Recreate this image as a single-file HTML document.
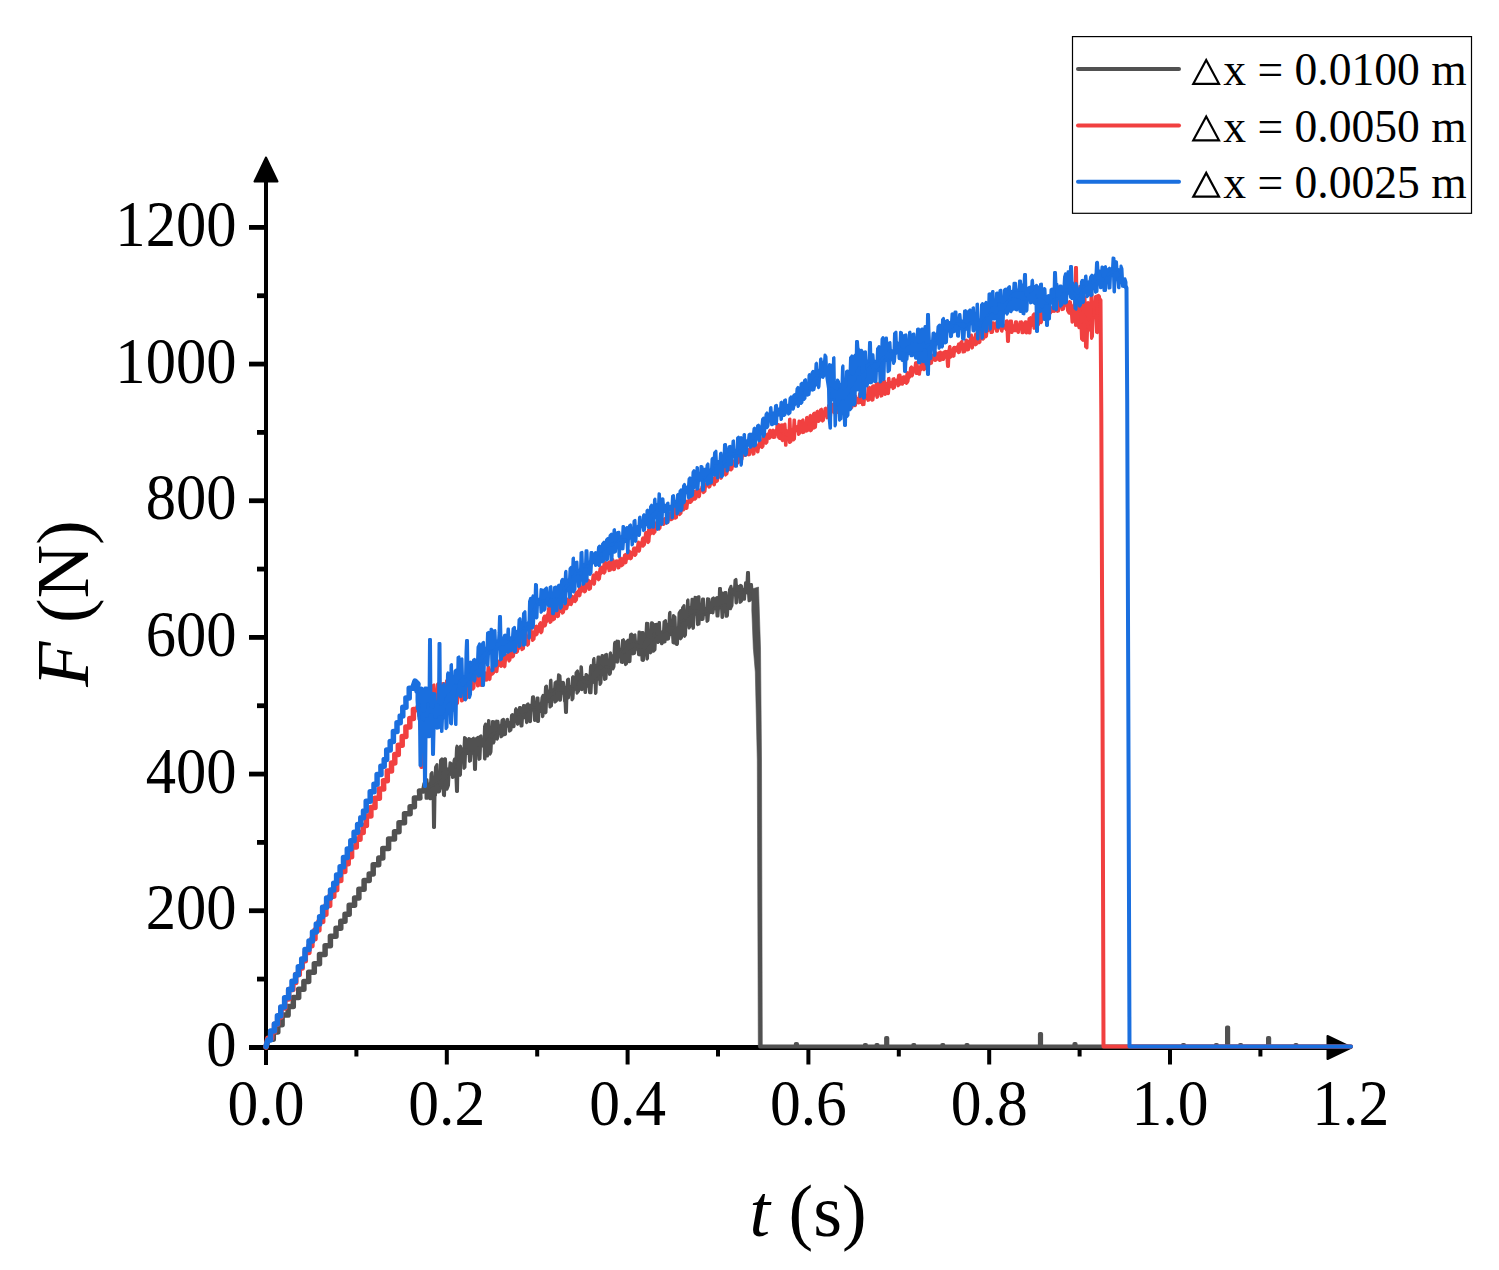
<!DOCTYPE html>
<html><head><meta charset="utf-8"><title>chart</title>
<style>html,body{margin:0;padding:0;background:#fff;overflow:hidden}svg{display:block}</style>
</head><body>
<svg width="1499" height="1270" viewBox="0 0 1499 1270">
<rect width="100%" height="100%" fill="#fff"/>
<rect x="264.00" y="182.00" width="4.00" height="883.00" fill="#000"/>
<rect x="249.00" y="1045.00" width="1079.00" height="5.00" fill="#000"/>
<polygon points="266,157.5 254.5,181.5 277.5,181.5" fill="#000" stroke="#000" stroke-width="2" stroke-linejoin="round"/>
<polygon points="1351.5,1047.5 1327.5,1036 1327.5,1059" fill="#000" stroke="#000" stroke-width="2" stroke-linejoin="round"/>
<rect x="249.00" y="1045.00" width="17.00" height="4.80" fill="#000"/>
<rect x="257.00" y="976.67" width="9.00" height="4.80" fill="#000"/>
<rect x="249.00" y="908.33" width="17.00" height="4.80" fill="#000"/>
<rect x="257.00" y="840.00" width="9.00" height="4.80" fill="#000"/>
<rect x="249.00" y="771.67" width="17.00" height="4.80" fill="#000"/>
<rect x="257.00" y="703.34" width="9.00" height="4.80" fill="#000"/>
<rect x="249.00" y="635.00" width="17.00" height="4.80" fill="#000"/>
<rect x="257.00" y="566.67" width="9.00" height="4.80" fill="#000"/>
<rect x="249.00" y="498.34" width="17.00" height="4.80" fill="#000"/>
<rect x="257.00" y="430.00" width="9.00" height="4.80" fill="#000"/>
<rect x="249.00" y="361.67" width="17.00" height="4.80" fill="#000"/>
<rect x="257.00" y="293.34" width="9.00" height="4.80" fill="#000"/>
<rect x="249.00" y="225.00" width="17.00" height="4.80" fill="#000"/>
<rect x="264.00" y="1047.00" width="4.00" height="17.50" fill="#000"/>
<rect x="354.40" y="1047.00" width="4.00" height="9.50" fill="#000"/>
<rect x="444.80" y="1047.00" width="4.00" height="17.50" fill="#000"/>
<rect x="535.20" y="1047.00" width="4.00" height="9.50" fill="#000"/>
<rect x="625.60" y="1047.00" width="4.00" height="17.50" fill="#000"/>
<rect x="716.00" y="1047.00" width="4.00" height="9.50" fill="#000"/>
<rect x="806.40" y="1047.00" width="4.00" height="17.50" fill="#000"/>
<rect x="896.80" y="1047.00" width="4.00" height="9.50" fill="#000"/>
<rect x="987.20" y="1047.00" width="4.00" height="17.50" fill="#000"/>
<rect x="1077.60" y="1047.00" width="4.00" height="9.50" fill="#000"/>
<rect x="1168.00" y="1047.00" width="4.00" height="17.50" fill="#000"/>
<rect x="1258.40" y="1047.00" width="4.00" height="9.50" fill="#000"/>
<text transform="translate(236.50,1066.10) scale(0.925,1)" font-family="Liberation Serif" font-size="65.5" text-anchor="end" fill="#000">0</text>
<text transform="translate(236.50,929.43) scale(0.925,1)" font-family="Liberation Serif" font-size="65.5" text-anchor="end" fill="#000">200</text>
<text transform="translate(236.50,792.77) scale(0.925,1)" font-family="Liberation Serif" font-size="65.5" text-anchor="end" fill="#000">400</text>
<text transform="translate(236.50,656.10) scale(0.925,1)" font-family="Liberation Serif" font-size="65.5" text-anchor="end" fill="#000">600</text>
<text transform="translate(236.50,519.44) scale(0.925,1)" font-family="Liberation Serif" font-size="65.5" text-anchor="end" fill="#000">800</text>
<text transform="translate(236.50,382.77) scale(0.925,1)" font-family="Liberation Serif" font-size="65.5" text-anchor="end" fill="#000">1000</text>
<text transform="translate(236.50,246.10) scale(0.925,1)" font-family="Liberation Serif" font-size="65.5" text-anchor="end" fill="#000">1200</text>
<text transform="translate(266.00,1125.20) scale(0.94,1)" font-family="Liberation Serif" font-size="65.5" text-anchor="middle" fill="#000">0.0</text>
<text transform="translate(446.80,1125.20) scale(0.94,1)" font-family="Liberation Serif" font-size="65.5" text-anchor="middle" fill="#000">0.2</text>
<text transform="translate(627.60,1125.20) scale(0.94,1)" font-family="Liberation Serif" font-size="65.5" text-anchor="middle" fill="#000">0.4</text>
<text transform="translate(808.40,1125.20) scale(0.94,1)" font-family="Liberation Serif" font-size="65.5" text-anchor="middle" fill="#000">0.6</text>
<text transform="translate(989.20,1125.20) scale(0.94,1)" font-family="Liberation Serif" font-size="65.5" text-anchor="middle" fill="#000">0.8</text>
<text transform="translate(1170.00,1125.20) scale(0.94,1)" font-family="Liberation Serif" font-size="65.5" text-anchor="middle" fill="#000">1.0</text>
<text transform="translate(1350.80,1125.20) scale(0.94,1)" font-family="Liberation Serif" font-size="65.5" text-anchor="middle" fill="#000">1.2</text>
<g fill="#515151" stroke="#515151">
<path d="M426.0,779.7 L426.5,779.7 L427.0,779.7 L427.5,785.6 L428.0,785.6 L428.5,785.1 L429.0,784.6 L429.5,784.1 L430.0,783.6 L430.5,783.1 L431.0,774.0 L431.5,773.2 L432.0,772.5 L432.5,783.4 L433.0,782.9 L433.5,782.5 L434.0,782.1 L434.5,781.5 L435.0,781.0 L435.5,767.2 L436.0,766.3 L436.5,765.4 L437.0,764.5 L437.5,780.2 L438.0,779.7 L438.5,779.2 L439.0,778.7 L439.5,778.2 L440.0,777.7 L440.5,760.4 L441.0,759.9 L441.5,759.4 L442.0,758.8 L442.5,770.5 L443.0,770.3 L443.5,770.0 L444.0,769.7 L444.5,759.0 L445.0,758.6 L445.5,759.0 L446.0,769.6 L446.5,769.5 L447.0,769.3 L447.5,769.2 L448.0,769.0 L448.5,768.9 L449.0,768.7 L449.5,768.6 L450.0,762.8 L450.5,763.1 L451.0,763.5 L451.5,763.9 L452.0,769.5 L452.5,768.6 L453.0,767.6 L453.5,766.5 L454.0,760.5 L454.5,759.1 L455.0,761.6 L455.5,760.5 L456.0,759.3 L456.5,747.8 L457.0,746.1 L457.5,754.6 L458.0,753.9 L458.5,753.3 L459.0,752.6 L459.5,751.9 L460.0,746.8 L460.5,746.1 L461.0,751.5 L461.5,750.9 L462.0,750.2 L462.5,749.5 L463.0,748.9 L463.5,748.2 L464.0,747.5 L464.5,737.4 L465.0,737.8 L465.5,738.2 L466.0,738.6 L466.5,747.1 L467.0,747.2 L467.5,747.3 L468.0,747.4 L468.5,747.5 L469.0,738.6 L469.5,739.1 L470.0,739.6 L470.5,739.3 L471.0,749.8 L471.5,749.6 L472.0,749.5 L472.5,749.3 L473.0,738.5 L473.5,738.2 L474.0,748.4 L474.5,748.2 L475.0,748.0 L475.5,747.7 L476.0,747.4 L476.5,738.3 L477.0,738.0 L477.5,737.7 L478.0,737.4 L478.5,744.8 L479.0,744.5 L479.5,744.2 L480.0,736.5 L480.5,736.2 L481.0,735.9 L481.5,744.3 L482.0,744.0 L482.5,743.5 L483.0,743.0 L483.5,742.5 L484.0,742.0 L484.5,726.5 L485.0,725.2 L485.5,724.0 L486.0,737.1 L486.5,736.4 L487.0,735.8 L487.5,735.1 L488.0,734.4 L488.5,720.5 L489.0,720.6 L489.5,732.5 L490.0,732.2 L490.5,731.9 L491.0,731.5 L491.5,731.2 L492.0,730.9 L492.5,721.4 L493.0,721.5 L493.5,721.6 L494.0,721.7 L494.5,730.8 L495.0,730.6 L495.5,730.4 L496.0,730.1 L496.5,721.1 L497.0,721.2 L497.5,721.2 L498.0,721.3 L498.5,726.3 L499.0,726.2 L499.5,726.0 L500.0,725.9 L500.5,725.6 L501.0,725.3 L501.5,725.0 L502.0,720.2 L502.5,719.9 L503.0,719.6 L503.5,719.3 L504.0,723.9 L504.5,723.6 L505.0,723.3 L505.5,723.0 L506.0,722.7 L506.5,722.4 L507.0,719.6 L507.5,719.3 L508.0,723.2 L508.5,722.9 L509.0,722.5 L509.5,722.7 L510.0,722.3 L510.5,721.9 L511.0,721.6 L511.5,715.2 L512.0,714.9 L512.5,714.6 L513.0,719.4 L513.5,718.8 L514.0,718.2 L514.5,717.6 L515.0,717.0 L515.5,709.5 L516.0,708.7 L516.5,712.5 L517.0,711.8 L517.5,711.1 L518.0,710.5 L518.5,710.4 L519.0,710.4 L519.5,707.6 L520.0,707.6 L520.5,707.6 L521.0,712.4 L521.5,712.4 L522.0,712.4 L522.5,712.4 L523.0,712.3 L523.5,705.4 L524.0,705.4 L524.5,711.3 L525.0,711.3 L525.5,710.8 L526.0,710.4 L526.5,705.2 L527.0,704.7 L527.5,704.2 L528.0,703.8 L528.5,707.2 L529.0,706.7 L529.5,706.3 L530.0,705.9 L530.5,705.4 L531.0,705.0 L531.5,704.6 L532.0,704.1 L532.5,696.9 L533.0,696.8 L533.5,696.7 L534.0,704.8 L534.5,704.8 L535.0,704.8 L535.5,704.7 L536.0,704.7 L536.5,704.6 L537.0,698.0 L537.5,697.9 L538.0,697.9 L538.5,705.6 L539.0,705.6 L539.5,705.5 L540.0,705.5 L540.5,704.5 L541.0,703.5 L541.5,702.5 L542.0,697.5 L542.5,696.4 L543.0,695.4 L543.5,700.0 L544.0,699.0 L544.5,698.0 L545.0,697.1 L545.5,686.8 L546.0,686.4 L546.5,686.0 L547.0,692.4 L547.5,692.0 L548.0,691.6 L548.5,691.1 L549.0,690.7 L549.5,690.3 L550.0,689.8 L550.5,680.5 L551.0,680.1 L551.5,691.6 L552.0,691.1 L552.5,690.7 L553.0,690.3 L553.5,689.9 L554.0,689.5 L554.5,689.1 L555.0,682.8 L555.5,682.3 L556.0,681.9 L556.5,683.8 L557.0,683.3 L557.5,682.9 L558.0,682.5 L558.5,674.8 L559.0,675.1 L559.5,675.5 L560.0,675.9 L560.5,684.4 L561.0,684.6 L561.5,684.9 L562.0,685.1 L562.5,685.4 L563.0,682.3 L563.5,682.6 L564.0,686.8 L564.5,687.0 L565.0,687.3 L565.5,687.5 L566.0,687.8 L566.5,687.5 L567.0,687.3 L567.5,679.7 L568.0,679.3 L568.5,679.0 L569.0,687.4 L569.5,687.1 L570.0,686.9 L570.5,686.7 L571.0,686.4 L571.5,686.2 L572.0,686.0 L572.5,677.3 L573.0,676.7 L573.5,685.8 L574.0,685.2 L574.5,684.6 L575.0,684.0 L575.5,683.3 L576.0,672.7 L576.5,672.1 L577.0,671.5 L577.5,670.9 L578.0,678.7 L578.5,678.1 L579.0,677.5 L579.5,676.8 L580.0,676.2 L580.5,676.5 L581.0,666.7 L581.5,667.1 L582.0,676.7 L582.5,677.0 L583.0,677.3 L583.5,677.6 L584.0,677.9 L584.5,678.1 L585.0,678.4 L585.5,678.7 L586.0,674.4 L586.5,674.7 L587.0,675.0 L587.5,678.5 L588.0,678.7 L588.5,677.9 L589.0,677.1 L589.5,676.3 L590.0,675.5 L590.5,666.8 L591.0,665.6 L591.5,672.1 L592.0,671.3 L592.5,670.4 L593.0,669.6 L593.5,659.7 L594.0,658.5 L594.5,666.9 L595.0,666.0 L595.5,665.8 L596.0,665.6 L596.5,665.4 L597.0,665.1 L597.5,664.9 L598.0,657.0 L598.5,656.9 L599.0,656.9 L599.5,663.7 L600.0,663.5 L600.5,663.3 L601.0,663.1 L601.5,662.8 L602.0,655.5 L602.5,655.4 L603.0,665.0 L603.5,664.8 L604.0,664.6 L604.5,664.4 L605.0,664.2 L605.5,654.7 L606.0,654.6 L606.5,654.4 L607.0,664.4 L607.5,664.2 L608.0,663.9 L608.5,663.7 L609.0,663.5 L609.5,663.3 L610.0,653.9 L610.5,652.9 L611.0,660.7 L611.5,659.6 L612.0,658.5 L612.5,657.4 L613.0,656.3 L613.5,655.1 L614.0,654.0 L614.5,643.3 L615.0,642.2 L615.5,650.8 L616.0,649.7 L616.5,649.8 L617.0,641.1 L617.5,641.2 L618.0,641.2 L618.5,641.2 L619.0,649.0 L619.5,649.1 L620.0,649.2 L620.5,649.3 L621.0,649.4 L621.5,649.4 L622.0,649.5 L622.5,640.2 L623.0,640.2 L623.5,639.7 L624.0,646.7 L624.5,646.2 L625.0,645.8 L625.5,645.3 L626.0,644.8 L626.5,641.6 L627.0,641.1 L627.5,640.7 L628.0,640.2 L628.5,642.4 L629.0,642.2 L629.5,642.0 L630.0,641.7 L630.5,634.6 L631.0,634.4 L631.5,634.1 L632.0,641.4 L632.5,641.2 L633.0,640.9 L633.5,640.7 L634.0,635.4 L634.5,635.1 L635.0,634.9 L635.5,641.6 L636.0,641.7 L636.5,641.8 L637.0,641.9 L637.5,642.0 L638.0,642.1 L638.5,642.2 L639.0,632.1 L639.5,632.1 L640.0,643.3 L640.5,643.4 L641.0,643.5 L641.5,643.6 L642.0,632.4 L642.5,632.5 L643.0,632.5 L643.5,639.6 L644.0,638.4 L644.5,637.2 L645.0,635.9 L645.5,634.7 L646.0,633.4 L646.5,623.3 L647.0,623.3 L647.5,623.4 L648.0,623.4 L648.5,637.1 L649.0,636.8 L649.5,636.6 L650.0,636.3 L650.5,636.1 L651.0,635.8 L651.5,622.8 L652.0,622.8 L652.5,622.9 L653.0,631.4 L653.5,631.3 L654.0,631.1 L654.5,631.0 L655.0,624.4 L655.5,624.4 L656.0,624.4 L656.5,624.3 L657.0,633.8 L657.5,633.6 L658.0,633.3 L658.5,633.1 L659.0,622.5 L659.5,622.5 L660.0,632.9 L660.5,632.7 L661.0,632.4 L661.5,632.2 L662.0,632.0 L662.5,631.8 L663.0,631.6 L663.5,631.4 L664.0,621.8 L664.5,621.5 L665.0,621.2 L665.5,620.5 L666.0,626.3 L666.5,625.8 L667.0,625.3 L667.5,624.8 L668.0,624.3 L668.5,623.8 L669.0,623.3 L669.5,613.0 L670.0,612.3 L670.5,625.3 L671.0,624.9 L671.5,624.5 L672.0,624.1 L672.5,624.5 L673.0,624.8 L673.5,615.6 L674.0,616.1 L674.5,616.5 L675.0,617.0 L675.5,628.2 L676.0,628.6 L676.5,629.0 L677.0,629.3 L677.5,628.6 L678.0,627.9 L678.5,627.2 L679.0,613.2 L679.5,612.3 L680.0,611.5 L680.5,610.7 L681.0,619.1 L681.5,618.3 L682.0,617.6 L682.5,607.8 L683.0,607.0 L683.5,606.3 L684.0,605.5 L684.5,618.3 L685.0,617.6 L685.5,616.9 L686.0,616.2 L686.5,615.5 L687.0,614.8 L687.5,600.6 L688.0,599.9 L688.5,610.4 L689.0,609.7 L689.5,609.0 L690.0,608.3 L690.5,607.6 L691.0,606.9 L691.5,606.9 L692.0,599.2 L692.5,599.4 L693.0,607.7 L693.5,607.7 L694.0,607.8 L694.5,607.8 L695.0,597.2 L695.5,597.5 L696.0,597.7 L696.5,608.2 L697.0,608.3 L697.5,608.3 L698.0,596.9 L698.5,596.8 L699.0,596.7 L699.5,609.0 L700.0,608.9 L700.5,608.8 L701.0,608.7 L701.5,608.6 L702.0,608.5 L702.5,599.0 L703.0,598.9 L703.5,598.9 L704.0,608.7 L704.5,608.7 L705.0,608.6 L705.5,608.5 L706.0,608.4 L706.5,608.3 L707.0,608.3 L707.5,598.7 L708.0,598.9 L708.5,599.0 L709.0,599.2 L709.5,604.4 L710.0,604.5 L710.5,604.5 L711.0,604.5 L711.5,604.5 L712.0,604.5 L712.5,598.6 L713.0,598.3 L713.5,597.9 L714.0,604.8 L714.5,604.6 L715.0,604.4 L715.5,604.1 L716.0,598.3 L716.5,597.9 L717.0,597.6 L717.5,604.6 L718.0,604.4 L718.5,604.2 L719.0,604.0 L719.5,588.5 L720.0,588.5 L720.5,588.5 L721.0,603.6 L721.5,593.0 L722.0,593.0 L722.5,593.0 L723.0,602.4 L723.5,602.4 L724.0,602.4 L724.5,602.4 L725.0,592.5 L725.5,592.5 L726.0,592.5 L726.5,601.6 L727.0,601.6 L727.5,600.5 L728.0,599.5 L728.5,598.4 L729.0,597.4 L729.5,589.5 L730.0,588.4 L730.5,587.3 L731.0,586.2 L731.5,590.9 L732.0,589.8 L732.5,589.6 L733.0,589.3 L733.5,589.0 L734.0,588.7 L734.5,588.4 L735.0,580.2 L735.5,579.8 L736.0,579.4 L736.5,587.2 L737.0,586.9 L737.5,586.6 L738.0,586.3 L738.5,586.5 L739.0,586.7 L739.5,586.9 L740.0,587.1 L740.5,585.4 L741.0,585.7 L741.5,585.9 L742.0,589.0 L742.5,589.2 L743.0,589.3 L743.5,589.4 L744.0,589.6 L744.5,589.6 L745.0,589.6 L745.5,582.8 L746.0,582.8 L746.5,582.8 L747.0,582.8 L747.5,572.5 L748.0,572.5 L748.5,572.5 L749.0,590.5 L749.5,590.4 L750.0,590.3 L750.5,590.2 L751.0,584.6 L751.5,584.6 L752.0,590.4 L752.0,593.6 L751.5,593.7 L751.0,593.9 L750.5,600.0 L750.0,600.3 L749.5,600.5 L749.0,600.8 L748.5,592.9 L748.0,593.0 L747.5,593.0 L747.0,592.6 L746.5,592.6 L746.0,592.6 L745.5,592.6 L745.0,592.6 L744.5,599.3 L744.0,599.3 L743.5,595.0 L743.0,595.1 L742.5,595.3 L742.0,595.5 L741.5,601.2 L741.0,601.6 L740.5,602.0 L740.0,602.4 L739.5,592.7 L739.0,592.7 L738.5,592.7 L738.0,592.8 L737.5,593.0 L737.0,593.2 L736.5,603.0 L736.0,603.0 L735.5,594.4 L735.0,594.6 L734.5,594.8 L734.0,595.0 L733.5,595.2 L733.0,595.4 L732.5,595.6 L732.0,605.7 L731.5,606.7 L731.0,607.7 L730.5,608.8 L730.0,600.6 L729.5,601.6 L729.0,602.7 L728.5,603.7 L728.0,604.8 L727.5,615.3 L727.0,616.3 L726.5,616.3 L726.0,616.3 L725.5,607.6 L725.0,607.6 L724.5,607.6 L724.0,607.6 L723.5,607.6 L723.0,607.6 L722.5,617.5 L722.0,617.5 L721.5,608.0 L721.0,608.0 L720.5,608.0 L720.0,608.0 L719.5,608.1 L719.0,608.2 L718.5,608.4 L718.0,616.1 L717.5,616.1 L717.0,616.1 L716.5,608.3 L716.0,608.5 L715.5,608.6 L715.0,608.8 L714.5,608.9 L714.0,609.1 L713.5,609.2 L713.0,612.9 L712.5,612.9 L712.0,611.9 L711.5,612.1 L711.0,612.3 L710.5,612.5 L710.0,612.7 L709.5,612.9 L709.0,613.2 L708.5,613.4 L708.0,620.5 L707.5,620.9 L707.0,621.3 L706.5,613.8 L706.0,614.0 L705.5,614.2 L705.0,614.4 L704.5,614.6 L704.0,614.8 L703.5,614.9 L703.0,619.4 L702.5,619.5 L702.0,619.6 L701.5,615.7 L701.0,615.8 L700.5,615.9 L700.0,616.0 L699.5,616.1 L699.0,624.1 L698.5,624.2 L698.0,624.3 L697.5,624.6 L697.0,613.9 L696.5,614.0 L696.0,614.2 L695.5,614.3 L695.0,614.4 L694.5,614.5 L694.0,614.6 L693.5,627.9 L693.0,628.3 L692.5,615.8 L692.0,616.0 L691.5,616.1 L691.0,616.2 L690.5,616.9 L690.0,626.7 L689.5,627.4 L689.0,628.0 L688.5,619.5 L688.0,620.2 L687.5,620.9 L687.0,621.5 L686.5,622.2 L686.0,622.9 L685.5,635.0 L685.0,635.6 L684.5,636.3 L684.0,622.4 L683.5,623.1 L683.0,623.8 L682.5,624.5 L682.0,625.2 L681.5,637.6 L681.0,638.2 L680.5,638.8 L680.0,628.5 L679.5,629.2 L679.0,629.9 L678.5,630.6 L678.0,631.3 L677.5,643.9 L677.0,644.5 L676.5,644.3 L676.0,644.1 L675.5,630.8 L675.0,630.4 L674.5,630.1 L674.0,643.0 L673.5,642.8 L673.0,642.6 L672.5,634.2 L672.0,633.9 L671.5,634.1 L671.0,634.4 L670.5,634.6 L670.0,634.8 L669.5,635.0 L669.0,635.2 L668.5,639.0 L668.0,639.1 L667.5,639.2 L667.0,633.2 L666.5,633.5 L666.0,633.8 L665.5,634.1 L665.0,641.9 L664.5,642.0 L664.0,642.2 L663.5,636.6 L663.0,636.8 L662.5,637.0 L662.0,643.7 L661.5,643.8 L661.0,634.6 L660.5,634.7 L660.0,634.9 L659.5,635.2 L659.0,641.7 L658.5,642.1 L658.0,642.5 L657.5,637.6 L657.0,637.9 L656.5,638.2 L656.0,638.5 L655.5,638.8 L655.0,649.6 L654.5,650.1 L654.0,650.6 L653.5,651.1 L653.0,642.3 L652.5,642.7 L652.0,643.2 L651.5,643.6 L651.0,652.3 L650.5,652.9 L650.0,645.9 L649.5,646.3 L649.0,646.8 L648.5,647.3 L648.0,647.8 L647.5,658.4 L647.0,659.1 L646.5,650.3 L646.0,650.8 L645.5,651.4 L645.0,652.0 L644.5,652.6 L644.0,653.2 L643.5,660.2 L643.0,660.5 L642.5,660.4 L642.0,660.2 L641.5,649.8 L641.0,649.7 L640.5,649.5 L640.0,649.4 L639.5,654.9 L639.0,654.8 L638.5,654.6 L638.0,649.5 L637.5,649.3 L637.0,649.2 L636.5,649.1 L636.0,648.9 L635.5,648.8 L635.0,648.6 L634.5,653.3 L634.0,653.5 L633.5,653.7 L633.0,653.9 L632.5,649.9 L632.0,650.1 L631.5,650.3 L631.0,650.5 L630.5,650.7 L630.0,661.5 L629.5,661.6 L629.0,661.8 L628.5,651.8 L628.0,651.9 L627.5,652.4 L627.0,652.8 L626.5,663.8 L626.0,664.2 L625.5,664.6 L625.0,654.7 L624.5,655.1 L624.0,655.5 L623.5,656.0 L623.0,656.4 L622.5,662.6 L622.0,662.4 L621.5,662.2 L621.0,662.0 L620.5,653.7 L620.0,653.6 L619.5,653.5 L619.0,653.4 L618.5,653.2 L618.0,653.1 L617.5,662.2 L617.0,662.0 L616.5,661.8 L616.0,661.6 L615.5,655.2 L615.0,656.4 L614.5,657.5 L614.0,666.6 L613.5,667.8 L613.0,668.9 L612.5,661.1 L612.0,662.2 L611.5,663.3 L611.0,664.5 L610.5,673.0 L610.0,674.2 L609.5,674.4 L609.0,669.9 L608.5,670.1 L608.0,670.4 L607.5,670.6 L607.0,670.9 L606.5,671.1 L606.0,678.6 L605.5,678.9 L605.0,679.2 L604.5,679.5 L604.0,669.3 L603.5,669.5 L603.0,669.8 L602.5,670.2 L602.0,670.7 L601.5,671.1 L601.0,682.8 L600.5,683.6 L600.0,684.4 L599.5,676.9 L599.0,677.4 L598.5,678.0 L598.0,678.6 L597.5,679.1 L597.0,679.7 L596.5,680.2 L596.0,692.6 L595.5,693.4 L595.0,680.8 L594.5,681.2 L594.0,681.6 L593.5,681.9 L593.0,682.3 L592.5,682.7 L592.0,683.0 L591.5,683.4 L591.0,692.8 L590.5,692.8 L590.0,692.7 L589.5,692.7 L589.0,685.6 L588.5,685.9 L588.0,686.3 L587.5,686.1 L587.0,685.9 L586.5,685.7 L586.0,685.5 L585.5,692.6 L585.0,692.5 L584.5,685.1 L584.0,684.9 L583.5,684.7 L583.0,684.5 L582.5,684.3 L582.0,689.7 L581.5,689.6 L581.0,689.4 L580.5,681.8 L580.0,681.6 L579.5,682.2 L579.0,682.8 L578.5,691.3 L578.0,691.9 L577.5,692.5 L577.0,693.2 L576.5,686.8 L576.0,687.4 L575.5,688.1 L575.0,688.7 L574.5,689.3 L574.0,689.9 L573.5,690.6 L573.0,698.5 L572.5,699.1 L572.0,699.8 L571.5,690.9 L571.0,691.0 L570.5,691.2 L570.0,691.4 L569.5,691.6 L569.0,691.8 L568.5,697.9 L568.0,698.1 L567.5,693.1 L567.0,693.3 L566.5,712.5 L566.0,712.5 L565.5,712.5 L565.0,701.3 L564.5,701.2 L564.0,693.5 L563.5,693.4 L563.0,693.2 L562.5,693.1 L562.0,693.0 L561.5,692.8 L561.0,692.7 L560.5,700.2 L560.0,700.2 L559.5,700.2 L559.0,693.1 L558.5,693.0 L558.0,692.9 L557.5,693.3 L557.0,693.7 L556.5,700.9 L556.0,701.3 L555.5,701.7 L555.0,702.1 L554.5,696.1 L554.0,696.5 L553.5,696.9 L553.0,697.4 L552.5,697.8 L552.0,698.2 L551.5,705.8 L551.0,706.2 L550.5,706.6 L550.0,707.0 L549.5,699.8 L549.0,700.2 L548.5,700.6 L548.0,701.0 L547.5,701.5 L547.0,701.9 L546.5,702.3 L546.0,712.4 L545.5,712.8 L545.0,701.6 L544.5,702.5 L544.0,703.4 L543.5,704.3 L543.0,715.9 L542.5,716.7 L542.0,708.1 L541.5,709.0 L541.0,710.0 L540.5,710.9 L540.0,711.8 L539.5,711.8 L539.0,711.8 L538.5,721.4 L538.0,721.4 L537.5,721.4 L537.0,712.0 L536.5,712.0 L536.0,712.0 L535.5,712.0 L535.0,720.4 L534.5,720.4 L534.0,709.9 L533.5,709.9 L533.0,709.9 L532.5,709.9 L532.0,710.0 L531.5,710.4 L531.0,710.7 L530.5,721.4 L530.0,721.7 L529.5,712.3 L529.0,712.7 L528.5,713.1 L528.0,713.5 L527.5,713.8 L527.0,722.3 L526.5,722.6 L526.0,716.8 L525.5,717.2 L525.0,717.6 L524.5,717.6 L524.0,717.7 L523.5,717.7 L523.0,717.7 L522.5,717.8 L522.0,725.9 L521.5,725.9 L521.0,726.0 L520.5,716.6 L520.0,716.6 L519.5,716.7 L519.0,716.7 L518.5,716.8 L518.0,724.0 L517.5,724.3 L517.0,718.5 L516.5,719.0 L516.0,719.4 L515.5,719.9 L515.0,720.4 L514.5,720.8 L514.0,726.6 L513.5,726.8 L513.0,722.5 L512.5,722.8 L512.0,723.2 L511.5,723.6 L511.0,730.0 L510.5,730.4 L510.0,730.8 L509.5,731.2 L509.0,724.7 L508.5,725.1 L508.0,725.5 L507.5,725.9 L507.0,726.3 L506.5,726.6 L506.0,726.9 L505.5,734.3 L505.0,734.7 L504.5,727.8 L504.0,728.1 L503.5,728.4 L503.0,728.7 L502.5,735.7 L502.0,736.1 L501.5,736.4 L501.0,736.8 L500.5,730.7 L500.0,731.0 L499.5,731.3 L499.0,731.7 L498.5,732.1 L498.0,732.4 L497.5,738.6 L497.0,739.2 L496.5,735.2 L496.0,735.7 L495.5,736.1 L495.0,736.5 L494.5,736.9 L494.0,742.1 L493.5,743.0 L493.0,739.5 L492.5,740.3 L492.0,741.0 L491.5,741.8 L491.0,752.0 L490.5,753.1 L490.0,754.2 L489.5,738.8 L489.0,739.3 L488.5,739.9 L488.0,740.4 L487.5,756.1 L487.0,755.9 L486.5,742.6 L486.0,743.0 L485.5,743.4 L485.0,759.1 L484.5,758.8 L484.0,744.0 L483.5,744.5 L483.0,745.0 L482.5,745.5 L482.0,746.0 L481.5,746.3 L481.0,746.5 L480.5,746.8 L480.0,758.6 L479.5,758.9 L479.0,759.3 L478.5,748.3 L478.0,748.7 L477.5,749.0 L477.0,749.3 L476.5,749.6 L476.0,750.0 L475.5,769.5 L475.0,769.5 L474.5,769.5 L474.0,752.7 L473.5,752.8 L473.0,753.0 L472.5,753.1 L472.0,753.2 L471.5,753.3 L471.0,753.4 L470.5,760.8 L470.0,760.8 L469.5,761.4 L469.0,753.0 L468.5,753.1 L468.0,753.2 L467.5,753.3 L467.0,753.5 L466.5,753.6 L466.0,753.7 L465.5,753.9 L465.0,767.3 L464.5,767.8 L464.0,768.4 L463.5,753.2 L463.0,753.9 L462.5,754.6 L462.0,755.3 L461.5,755.9 L461.0,756.6 L460.5,774.7 L460.0,775.4 L459.5,761.0 L459.0,761.7 L458.5,762.4 L458.0,763.1 L457.5,791.5 L457.0,791.5 L456.5,791.5 L456.0,779.0 L455.5,769.4 L455.0,770.0 L454.5,770.6 L454.0,771.2 L453.5,771.8 L453.0,777.4 L452.5,777.5 L452.0,771.5 L451.5,772.2 L451.0,772.9 L450.5,773.6 L450.0,774.3 L449.5,775.0 L449.0,775.7 L448.5,785.3 L448.0,786.7 L447.5,788.0 L447.0,789.3 L446.5,780.2 L446.0,781.0 L445.5,781.7 L445.0,782.4 L444.5,795.7 L444.0,795.4 L443.5,795.2 L443.0,788.3 L442.5,788.2 L442.0,788.1 L441.5,788.0 L441.0,787.9 L440.5,787.8 L440.0,787.6 L439.5,791.6 L439.0,791.8 L438.5,792.0 L438.0,792.1 L437.5,785.3 L437.0,785.7 L436.5,786.1 L436.0,786.4 L435.5,795.3 L435.0,795.4 L434.5,827.5 L434.0,827.5 L433.5,827.5 L433.0,787.9 L432.5,788.2 L432.0,788.5 L431.5,788.8 L431.0,798.7 L430.5,798.7 L430.0,798.8 L429.5,790.4 L429.0,790.6 L428.5,790.9 L428.0,791.2 L427.5,798.3 L427.0,798.3 L426.5,798.3 L426.0,798.3Z" stroke-width="3" stroke-linejoin="round"/>
<path d="M752.0,589.0 L758.5,587.0 L760.5,648.0 L761.5,760.0 L762.3,1046.4 L758.3,1046.4 L757.3,760.0 L755.3,672.0 L753.3,648.0 L751.8,610.0Z" stroke-width="0.6"/>
<path d="M266.0,1047.0 L268.5,1039.2 L273.3,1039.2 L273.3,1031.9 L277.8,1031.9 L277.8,1024.8 L282.1,1024.8 L282.1,1015.1 L288.1,1015.1 L288.1,1006.6 L293.3,1006.6 L293.3,997.6 L298.7,997.6 L298.7,989.2 L303.9,989.2 L303.9,981.4 L308.7,981.4 L308.7,972.3 L314.3,972.3 L314.3,963.8 L319.5,963.8 L319.5,954.6 L325.1,954.6 L325.1,945.7 L330.4,945.7 L330.4,936.3 L336.0,936.3 L336.0,928.3 L340.8,928.3 L340.8,921.2 L345.0,921.2 L345.0,914.2 L349.2,914.2 L349.2,905.2 L354.6,905.2 L354.6,898.1 L358.9,898.1 L358.9,889.3 L364.1,889.3 L364.1,880.6 L369.2,880.6 L369.2,873.9 L373.2,873.9 L373.2,864.7 L378.7,864.7 L378.8,858.0 L382.8,858.0 L382.8,848.5 L388.6,848.5 L388.6,839.1 L394.5,839.1 L394.5,831.8 L399.0,831.8 L399.0,822.8 L404.5,822.8 L404.5,813.7 L410.1,813.7 L410.1,806.8 L414.4,806.8 L414.4,797.9 L419.9,797.9 L419.5,791.0 L423.7,791.0 L425.0,784.0 L426.0,789.0" fill="none" stroke-width="5.5" stroke-linejoin="round" stroke-linecap="round"/>
<path d="M760.0,1046.4 L795.8,1046.4 L795.8,1044.0 L797.0,1044.0 L797.0,1046.4 L864.8,1046.4 L864.8,1045.1 L866.0,1045.1 L866.0,1046.4 L876.4,1046.4 L876.4,1045.1 L877.6,1045.1 L877.6,1046.4 L886.1,1046.4 L886.1,1038.0 L887.3,1038.0 L887.3,1046.4 L913.2,1046.4 L913.2,1045.1 L914.4,1045.1 L914.4,1046.4 L942.2,1046.4 L942.2,1045.0 L943.4,1045.0 L943.4,1046.4 L966.4,1046.4 L966.4,1045.1 L967.6,1045.1 L967.6,1046.4 L1039.9,1046.4 L1039.9,1034.0 L1041.1,1034.0 L1041.1,1046.4 L1074.4,1046.4 L1074.4,1044.0 L1075.6,1044.0 L1075.6,1046.4 L1182.9,1046.4 L1182.9,1045.1 L1184.1,1045.1 L1184.1,1046.4 L1215.8,1046.4 L1215.8,1045.1 L1217.0,1045.1 L1217.0,1046.4 L1227.0,1046.4 L1227.0,1027.5 L1228.2,1027.5 L1228.2,1046.4 L1240.0,1046.4 L1240.0,1045.1 L1241.2,1045.1 L1241.2,1046.4 L1268.0,1046.4 L1268.0,1038.0 L1269.2,1038.0 L1269.2,1046.4 L1295.4,1046.4 L1295.4,1045.1 L1296.6,1045.1 L1296.6,1046.4 L1351.0,1046.4" fill="none" stroke-width="4" stroke-linejoin="round" stroke-linecap="round"/>
</g>
<g fill="#F14040" stroke="#F14040">
<path d="M420.0,714.1 L420.5,713.8 L421.0,713.4 L421.5,713.1 L422.0,712.7 L422.5,702.2 L423.0,701.6 L423.5,701.1 L424.0,710.9 L424.5,710.2 L425.0,709.5 L425.5,708.9 L426.0,708.2 L426.5,707.5 L427.0,706.8 L427.5,691.3 L428.0,690.3 L428.5,704.0 L429.0,703.5 L429.5,703.0 L430.0,702.5 L430.5,702.0 L431.0,701.6 L431.5,701.1 L432.0,700.6 L432.5,686.0 L433.0,685.6 L433.5,685.2 L434.0,684.8 L434.5,694.3 L435.0,693.9 L435.5,693.5 L436.0,693.1 L436.5,692.7 L437.0,692.3 L437.5,684.1 L438.0,683.7 L438.5,683.3 L439.0,682.9 L439.5,696.8 L440.0,696.4 L440.5,696.3 L441.0,696.1 L441.5,696.0 L442.0,683.7 L442.5,683.6 L443.0,683.5 L443.5,683.4 L444.0,688.8 L444.5,688.7 L445.0,688.6 L445.5,688.5 L446.0,688.3 L446.5,680.6 L447.0,680.5 L447.5,690.0 L448.0,689.9 L448.5,689.8 L449.0,689.6 L449.5,689.5 L450.0,689.4 L450.5,689.8 L451.0,690.1 L451.5,680.0 L452.0,680.9 L452.5,692.1 L453.0,692.4 L453.5,692.8 L454.0,693.1 L454.5,685.9 L455.0,686.7 L455.5,694.9 L456.0,695.2 L456.5,695.5 L457.0,695.7 L457.5,695.4 L458.0,695.1 L458.5,694.8 L459.0,691.4 L459.5,691.1 L460.0,692.5 L460.5,692.2 L461.0,691.8 L461.5,691.5 L462.0,691.2 L462.5,685.2 L463.0,684.8 L463.5,684.4 L464.0,691.6 L464.5,691.2 L465.0,690.9 L465.5,684.2 L466.0,683.8 L466.5,683.2 L467.0,688.1 L467.5,687.5 L468.0,686.8 L468.5,686.1 L469.0,685.4 L469.5,679.2 L470.0,678.6 L470.5,683.4 L471.0,682.7 L471.5,682.1 L472.0,681.4 L472.5,680.7 L473.0,674.6 L473.5,674.0 L474.0,673.4 L474.5,677.2 L475.0,676.5 L475.5,676.5 L476.0,676.4 L476.5,676.3 L477.0,676.2 L477.5,671.0 L478.0,670.9 L478.5,677.6 L479.0,677.6 L479.5,677.5 L480.0,677.4 L480.5,677.3 L481.0,670.5 L481.5,670.4 L482.0,676.5 L482.5,676.4 L483.0,676.3 L483.5,676.3 L484.0,672.9 L484.5,672.8 L485.0,672.7 L485.5,676.0 L486.0,675.6 L486.5,675.1 L487.0,674.7 L487.5,674.2 L488.0,667.2 L488.5,666.9 L489.0,671.8 L489.5,671.4 L490.0,671.0 L490.5,670.5 L491.0,670.1 L491.5,669.6 L492.0,669.2 L492.5,664.2 L493.0,663.8 L493.5,667.8 L494.0,667.4 L494.5,666.9 L495.0,666.5 L495.5,666.1 L496.0,665.6 L496.5,661.6 L497.0,661.1 L497.5,660.6 L498.0,663.0 L498.5,662.6 L499.0,662.2 L499.5,661.7 L500.0,661.3 L500.5,660.1 L501.0,659.6 L501.5,660.4 L502.0,660.0 L502.5,659.5 L503.0,659.1 L503.5,658.6 L504.0,658.2 L504.5,656.1 L505.0,655.7 L505.5,655.2 L506.0,654.8 L506.5,655.9 L507.0,655.4 L507.5,655.0 L508.0,654.5 L508.5,654.0 L509.0,651.7 L509.5,651.3 L510.0,652.7 L510.5,652.3 L511.0,651.8 L511.5,651.3 L512.0,648.3 L512.5,647.8 L513.0,647.2 L513.5,650.2 L514.0,649.7 L514.5,649.2 L515.0,648.7 L515.5,648.2 L516.0,647.7 L516.5,647.2 L517.0,642.3 L517.5,641.7 L518.0,641.2 L518.5,643.6 L519.0,643.1 L519.5,642.6 L520.0,642.1 L520.5,641.6 L521.0,641.0 L521.5,637.0 L522.0,636.5 L522.5,635.9 L523.0,639.1 L523.5,638.6 L524.0,638.1 L524.5,637.6 L525.0,637.1 L525.5,632.1 L526.0,631.8 L526.5,637.3 L527.0,637.0 L527.5,636.6 L528.0,636.3 L528.5,635.9 L529.0,635.6 L529.5,635.2 L530.0,634.8 L530.5,628.9 L531.0,628.6 L531.5,633.5 L532.0,633.2 L532.5,632.8 L533.0,632.5 L533.5,632.1 L534.0,631.8 L534.5,631.4 L535.0,631.1 L535.5,626.6 L536.0,626.3 L536.5,626.0 L537.0,630.8 L537.5,629.8 L538.0,629.5 L538.5,629.1 L539.0,628.7 L539.5,623.9 L540.0,623.6 L540.5,622.6 L541.0,626.0 L541.5,625.2 L542.0,624.4 L542.5,623.6 L543.0,622.8 L543.5,617.9 L544.0,617.0 L544.5,616.1 L545.0,618.4 L545.5,617.6 L546.0,616.7 L546.5,615.9 L547.0,615.0 L547.5,614.2 L548.0,613.3 L548.5,608.4 L549.0,607.4 L549.5,606.5 L550.0,611.8 L550.5,611.7 L551.0,611.6 L551.5,611.5 L552.0,606.5 L552.5,606.4 L553.0,606.4 L553.5,609.6 L554.0,609.5 L554.5,609.4 L555.0,609.3 L555.5,609.2 L556.0,609.1 L556.5,609.0 L557.0,608.9 L557.5,604.8 L558.0,604.8 L558.5,610.1 L559.0,609.8 L559.5,609.6 L560.0,609.5 L560.5,609.1 L561.0,608.7 L561.5,608.3 L562.0,604.8 L562.5,604.4 L563.0,606.1 L563.5,605.7 L564.0,605.4 L564.5,605.0 L565.0,604.6 L565.5,604.2 L566.0,600.1 L566.5,599.7 L567.0,599.4 L567.5,599.0 L568.0,603.1 L568.5,602.7 L569.0,602.3 L569.5,601.9 L570.0,601.5 L570.5,597.8 L571.0,597.3 L571.5,596.7 L572.0,596.1 L572.5,598.4 L573.0,597.9 L573.5,597.3 L574.0,596.7 L574.5,596.2 L575.0,595.6 L575.5,595.0 L576.0,592.8 L576.5,592.2 L577.0,592.5 L577.5,592.0 L578.0,591.4 L578.5,590.8 L579.0,590.3 L579.5,587.9 L580.0,587.3 L580.5,586.9 L581.0,588.4 L581.5,588.0 L582.0,587.6 L582.5,587.2 L583.0,584.0 L583.5,583.6 L584.0,583.1 L584.5,582.7 L585.0,586.8 L585.5,586.4 L586.0,585.5 L586.5,585.1 L587.0,584.8 L587.5,584.4 L588.0,580.6 L588.5,580.2 L589.0,582.9 L589.5,582.6 L590.0,582.2 L590.5,581.8 L591.0,581.4 L591.5,581.0 L592.0,580.6 L592.5,580.1 L593.0,575.5 L593.5,574.9 L594.0,578.8 L594.5,578.2 L595.0,577.7 L595.5,577.1 L596.0,572.9 L596.5,572.3 L597.0,574.5 L597.5,573.9 L598.0,573.4 L598.5,572.8 L599.0,572.3 L599.5,571.7 L600.0,568.6 L600.5,568.0 L601.0,567.5 L601.5,567.0 L602.0,568.8 L602.5,568.2 L603.0,567.7 L603.5,567.1 L604.0,563.7 L604.5,563.2 L605.0,562.6 L605.5,562.5 L606.0,566.2 L606.5,566.1 L607.0,565.9 L607.5,565.7 L608.0,565.6 L608.5,562.2 L609.0,562.1 L609.5,561.9 L610.0,561.7 L610.5,564.5 L611.0,564.4 L611.5,564.2 L612.0,560.1 L612.5,559.9 L613.0,559.8 L613.5,564.3 L614.0,564.2 L614.5,564.0 L615.0,563.2 L615.5,563.0 L616.0,561.0 L616.5,560.9 L617.0,560.7 L617.5,562.3 L618.0,562.5 L618.5,562.3 L619.0,562.2 L619.5,561.7 L620.0,558.3 L620.5,557.9 L621.0,560.0 L621.5,559.6 L622.0,559.2 L622.5,558.9 L623.0,558.5 L623.5,558.1 L624.0,557.8 L624.5,555.0 L625.0,554.7 L625.5,554.3 L626.0,556.7 L626.5,556.3 L627.0,555.9 L627.5,555.6 L628.0,555.2 L628.5,554.8 L629.0,551.5 L629.5,551.1 L630.0,553.8 L630.5,553.5 L631.0,553.1 L631.5,552.7 L632.0,552.4 L632.5,552.0 L633.0,551.6 L633.5,548.3 L634.0,547.9 L634.5,549.8 L635.0,549.5 L635.5,548.9 L636.0,548.3 L636.5,547.6 L637.0,547.0 L637.5,546.4 L638.0,542.6 L638.5,542.0 L639.0,545.1 L639.5,544.5 L640.0,543.9 L640.5,543.3 L641.0,542.7 L641.5,542.1 L642.0,541.5 L642.5,538.4 L643.0,537.8 L643.5,539.3 L644.0,538.7 L644.5,538.1 L645.0,537.5 L645.5,533.0 L646.0,532.3 L646.5,535.4 L647.0,534.8 L647.5,534.2 L648.0,533.6 L648.5,529.7 L649.0,529.1 L649.5,528.4 L650.0,532.4 L650.5,531.9 L651.0,531.4 L651.5,530.9 L652.0,530.4 L652.5,526.7 L653.0,526.3 L653.5,525.8 L654.0,525.4 L654.5,527.3 L655.0,526.9 L655.5,526.4 L656.0,525.9 L656.5,522.4 L657.0,521.9 L657.5,524.7 L658.0,524.2 L658.5,523.7 L659.0,520.7 L659.5,520.3 L660.0,519.9 L660.5,522.1 L661.0,521.5 L661.5,521.0 L662.0,519.4 L662.5,519.0 L663.0,519.9 L663.5,520.0 L664.0,519.7 L664.5,518.9 L665.0,518.6 L665.5,518.3 L666.0,517.9 L666.5,518.1 L667.0,514.5 L667.5,514.2 L668.0,513.8 L668.5,516.3 L669.0,515.9 L669.5,515.6 L670.0,515.3 L670.5,513.0 L671.0,512.6 L671.5,512.3 L672.0,514.2 L672.5,513.8 L673.0,513.5 L673.5,513.2 L674.0,512.9 L674.5,508.8 L675.0,508.5 L675.5,511.0 L676.0,510.7 L676.5,510.4 L677.0,510.0 L677.5,509.7 L678.0,506.1 L678.5,505.8 L679.0,509.7 L679.5,509.4 L680.0,509.0 L680.5,508.6 L681.0,508.1 L681.5,505.7 L682.0,505.2 L682.5,505.9 L683.0,505.4 L683.5,504.9 L684.0,504.5 L684.5,504.0 L685.0,502.0 L685.5,501.5 L686.0,501.0 L686.5,502.5 L687.0,502.0 L687.5,501.6 L688.0,501.1 L688.5,500.6 L689.0,500.1 L689.5,499.6 L690.0,496.0 L690.5,495.5 L691.0,495.0 L691.5,498.1 L692.0,497.6 L692.5,497.1 L693.0,496.6 L693.5,492.6 L694.0,492.1 L694.5,491.6 L695.0,491.2 L695.5,494.4 L696.0,494.0 L696.5,493.5 L697.0,490.0 L697.5,489.6 L698.0,492.3 L698.5,491.8 L699.0,491.4 L699.5,490.9 L700.0,490.1 L700.5,489.6 L701.0,489.2 L701.5,488.7 L702.0,486.4 L702.5,486.0 L703.0,485.5 L703.5,486.1 L704.0,485.7 L704.5,485.2 L705.0,484.8 L705.5,484.4 L706.0,484.0 L706.5,483.5 L707.0,483.1 L707.5,479.9 L708.0,479.5 L708.5,479.1 L709.0,482.2 L709.5,481.8 L710.0,481.4 L710.5,481.0 L711.0,476.9 L711.5,476.5 L712.0,476.1 L712.5,479.9 L713.0,479.5 L713.5,479.1 L714.0,478.7 L714.5,478.3 L715.0,477.9 L715.5,477.5 L716.0,473.3 L716.5,472.9 L717.0,472.5 L717.5,474.4 L718.0,474.1 L718.5,473.8 L719.0,473.4 L719.5,470.2 L720.0,469.9 L720.5,473.4 L721.0,473.2 L721.5,472.8 L722.0,472.5 L722.5,472.1 L723.0,471.6 L723.5,471.2 L724.0,469.2 L724.5,468.9 L725.0,469.8 L725.5,469.4 L726.0,469.1 L726.5,468.7 L727.0,465.3 L727.5,465.0 L728.0,467.8 L728.5,467.4 L729.0,467.1 L729.5,466.8 L730.0,466.4 L730.5,465.9 L731.0,465.4 L731.5,464.9 L732.0,461.9 L732.5,461.4 L733.0,460.9 L733.5,463.0 L734.0,462.5 L734.5,462.0 L735.0,461.9 L735.5,461.4 L736.0,460.9 L736.5,460.4 L737.0,459.9 L737.5,456.8 L738.0,456.3 L738.5,455.8 L739.0,457.5 L739.5,457.0 L740.0,456.5 L740.5,456.0 L741.0,455.5 L741.5,455.7 L742.0,455.2 L742.5,452.6 L743.0,452.1 L743.5,453.0 L744.0,452.5 L744.5,452.0 L745.0,451.6 L745.5,448.5 L746.0,448.3 L746.5,448.1 L747.0,450.4 L747.5,450.1 L748.0,449.9 L748.5,449.7 L749.0,449.5 L749.5,449.3 L750.0,449.1 L750.5,446.1 L751.0,445.8 L751.5,445.6 L752.0,448.8 L752.5,448.6 L753.0,448.8 L753.5,448.6 L754.0,448.4 L754.5,447.8 L755.0,447.7 L755.5,447.5 L756.0,445.7 L756.5,445.5 L757.0,446.9 L757.5,447.1 L758.0,446.9 L758.5,445.9 L759.0,443.4 L759.5,442.8 L760.0,443.2 L760.5,442.7 L761.0,442.1 L761.5,441.6 L762.0,441.0 L762.5,440.4 L763.0,437.1 L763.5,436.6 L764.0,436.0 L764.5,435.5 L765.0,438.6 L765.5,438.1 L766.0,437.8 L766.5,437.3 L767.0,434.6 L767.5,434.0 L768.0,434.2 L768.5,433.6 L769.0,433.1 L769.5,430.7 L770.0,430.2 L770.5,433.3 L771.0,432.6 L771.5,432.3 L772.0,432.1 L772.5,430.3 L773.0,430.0 L773.5,431.6 L774.0,431.4 L774.5,431.1 L775.0,430.9 L775.5,430.6 L776.0,430.4 L776.5,430.2 L777.0,425.1 L777.5,424.8 L778.0,424.5 L778.5,424.4 L779.0,429.3 L779.5,429.5 L780.0,429.6 L780.5,429.8 L781.0,425.0 L781.5,424.9 L782.0,424.8 L782.5,431.3 L783.0,431.4 L783.5,431.6 L784.0,431.8 L784.5,424.1 L785.0,424.0 L785.5,431.5 L786.0,431.3 L786.5,431.1 L787.0,430.9 L787.5,430.7 L788.0,430.6 L788.5,430.4 L789.0,430.2 L789.5,419.3 L790.0,419.0 L790.5,430.1 L791.0,429.9 L791.5,429.7 L792.0,429.5 L792.5,429.3 L793.0,429.1 L793.5,428.9 L794.0,419.9 L794.5,419.9 L795.0,427.3 L795.5,427.2 L796.0,427.0 L796.5,426.8 L797.0,426.7 L797.5,426.5 L798.0,426.3 L798.5,426.1 L799.0,421.1 L799.5,421.1 L800.0,421.2 L800.5,426.8 L801.0,426.6 L801.5,426.4 L802.0,426.2 L802.5,420.2 L803.0,419.9 L803.5,425.6 L804.0,425.4 L804.5,424.7 L805.0,424.5 L805.5,424.3 L806.0,424.1 L806.5,417.6 L807.0,417.4 L807.5,421.4 L808.0,421.2 L808.5,420.9 L809.0,420.7 L809.5,420.5 L810.0,415.7 L810.5,415.4 L811.0,421.2 L811.5,420.8 L812.0,420.5 L812.5,420.2 L813.0,419.8 L813.5,413.7 L814.0,413.4 L814.5,413.1 L815.0,418.4 L815.5,418.1 L816.0,417.7 L816.5,417.4 L817.0,411.5 L817.5,411.2 L818.0,415.3 L818.5,414.9 L819.0,414.6 L819.5,414.2 L820.0,413.9 L820.5,409.8 L821.0,409.5 L821.5,409.2 L822.0,413.7 L822.5,413.3 L823.0,413.0 L823.5,412.6 L824.0,412.2 L824.5,411.9 L825.0,408.5 L825.5,408.2 L826.0,410.7 L826.5,410.5 L827.0,410.4 L827.5,410.2 L828.0,410.0 L828.5,405.5 L829.0,405.4 L829.5,410.3 L830.0,410.1 L830.5,410.0 L831.0,409.3 L831.5,409.2 L832.0,409.0 L832.5,408.8 L833.0,404.1 L833.5,404.0 L834.0,403.8 L834.5,408.4 L835.0,408.0 L835.5,407.9 L836.0,407.7 L836.5,407.6 L837.0,401.7 L837.5,401.5 L838.0,401.4 L838.5,405.2 L839.0,405.0 L839.5,404.9 L840.0,404.7 L840.5,404.6 L841.0,404.4 L841.5,404.3 L842.0,400.4 L842.5,400.2 L843.0,405.6 L843.5,405.5 L844.0,405.3 L844.5,405.2 L845.0,405.0 L845.5,402.2 L846.0,402.0 L846.5,402.8 L847.0,402.6 L847.5,402.3 L848.0,402.1 L848.5,401.9 L849.0,398.2 L849.5,397.9 L850.0,397.7 L850.5,402.9 L851.0,402.7 L851.5,402.4 L852.0,402.2 L852.5,401.2 L853.0,401.0 L853.5,400.8 L854.0,400.5 L854.5,396.4 L855.0,396.2 L855.5,396.0 L856.0,399.0 L856.5,398.9 L857.0,398.7 L857.5,398.6 L858.0,398.4 L858.5,398.2 L859.0,398.1 L859.5,393.8 L860.0,393.6 L860.5,393.5 L861.0,396.9 L861.5,396.7 L862.0,396.5 L862.5,396.4 L863.0,396.2 L863.5,395.8 L864.0,394.7 L864.5,394.3 L865.0,396.5 L865.5,396.2 L866.0,395.9 L866.5,395.6 L867.0,395.2 L867.5,394.9 L868.0,388.0 L868.5,387.8 L869.0,387.6 L869.5,387.4 L870.0,391.3 L870.5,391.1 L871.0,390.8 L871.5,390.6 L872.0,390.4 L872.5,386.2 L873.0,385.9 L873.5,385.7 L874.0,389.8 L874.5,389.6 L875.0,389.4 L875.5,389.2 L876.0,384.2 L876.5,384.0 L877.0,383.8 L877.5,383.6 L878.0,389.0 L878.5,388.8 L879.0,388.5 L879.5,388.3 L880.0,382.3 L880.5,382.0 L881.0,381.8 L881.5,388.4 L882.0,388.2 L882.5,387.9 L883.0,387.7 L883.5,381.6 L884.0,381.4 L884.5,381.1 L885.0,384.3 L885.5,384.0 L886.0,383.8 L886.5,383.5 L887.0,383.3 L887.5,383.0 L888.0,382.8 L888.5,378.5 L889.0,378.3 L889.5,383.3 L890.0,383.1 L890.5,382.8 L891.0,382.6 L891.5,382.3 L892.0,382.1 L892.5,381.9 L893.0,379.0 L893.5,378.8 L894.0,378.6 L894.5,381.2 L895.0,380.9 L895.5,380.7 L896.0,380.4 L896.5,380.2 L897.0,379.9 L897.5,379.7 L898.0,379.4 L898.5,375.4 L899.0,375.2 L899.5,375.0 L900.0,374.9 L900.5,377.5 L901.0,377.6 L901.5,377.6 L902.0,377.7 L902.5,377.8 L903.0,377.8 L903.5,376.7 L904.0,376.8 L904.5,376.8 L905.0,378.6 L905.5,378.0 L906.0,377.4 L906.5,376.8 L907.0,373.2 L907.5,372.6 L908.0,374.8 L908.5,374.2 L909.0,373.6 L909.5,373.0 L910.0,372.4 L910.5,368.0 L911.0,367.4 L911.5,366.8 L912.0,370.6 L912.5,370.0 L913.0,369.4 L913.5,368.8 L914.0,368.2 L914.5,367.5 L915.0,366.9 L915.5,362.8 L916.0,362.7 L916.5,362.6 L917.0,362.5 L917.5,367.0 L918.0,367.0 L918.5,367.0 L919.0,367.4 L919.5,367.4 L920.0,367.4 L920.5,367.0 L921.0,363.6 L921.5,363.3 L922.0,363.0 L922.5,363.6 L923.0,363.2 L923.5,362.9 L924.0,362.5 L924.5,362.1 L925.0,361.8 L925.5,361.4 L926.0,358.4 L926.5,358.1 L927.0,357.8 L927.5,361.0 L928.0,360.6 L928.5,360.2 L929.0,359.8 L929.5,359.4 L930.0,359.7 L930.5,355.9 L931.0,355.6 L931.5,355.4 L932.0,355.1 L932.5,357.4 L933.0,357.2 L933.5,357.0 L934.0,356.7 L934.5,356.5 L935.0,356.3 L935.5,356.0 L936.0,353.2 L936.5,352.9 L937.0,355.9 L937.5,355.6 L938.0,355.4 L938.5,355.2 L939.0,354.9 L939.5,352.4 L940.0,352.1 L940.5,352.0 L941.0,353.2 L941.5,353.0 L942.0,352.9 L942.5,352.8 L943.0,352.6 L943.5,352.5 L944.0,352.4 L944.5,351.6 L945.0,351.5 L945.5,351.3 L946.0,351.7 L946.5,351.6 L947.0,351.4 L947.5,351.3 L948.0,351.2 L948.5,350.9 L949.0,350.7 L949.5,346.7 L950.0,346.5 L950.5,351.6 L951.0,351.4 L951.5,351.1 L952.0,350.8 L952.5,350.6 L953.0,350.3 L953.5,347.7 L954.0,347.4 L954.5,347.2 L955.0,347.8 L955.5,347.5 L956.0,347.3 L956.5,347.1 L957.0,346.8 L957.5,346.6 L958.0,346.3 L958.5,344.0 L959.0,343.8 L959.5,346.5 L960.0,346.3 L960.5,346.0 L961.0,342.1 L961.5,341.7 L962.0,341.4 L962.5,345.4 L963.0,345.1 L963.5,344.9 L964.0,344.6 L964.5,344.4 L965.0,344.1 L965.5,343.9 L966.0,340.3 L966.5,340.0 L967.0,342.1 L967.5,341.9 L968.0,341.6 L968.5,341.3 L969.0,341.1 L969.5,340.8 L970.0,340.5 L970.5,335.4 L971.0,335.2 L971.5,335.0 L972.0,339.1 L972.5,338.9 L973.0,338.6 L973.5,338.4 L974.0,338.1 L974.5,337.8 L975.0,337.6 L975.5,334.1 L976.0,333.9 L976.5,338.8 L977.0,338.5 L977.5,338.2 L978.0,337.9 L978.5,337.6 L979.0,337.3 L979.5,337.0 L980.0,331.4 L980.5,331.0 L981.0,335.1 L981.5,334.6 L982.0,334.1 L982.5,333.6 L983.0,333.9 L983.5,333.4 L984.0,328.2 L984.5,327.7 L985.0,327.3 L985.5,330.5 L986.0,330.0 L986.5,329.5 L987.0,329.1 L987.5,328.6 L988.0,328.1 L988.5,327.6 L989.0,327.2 L989.5,322.8 L990.0,322.3 L990.5,325.3 L991.0,325.3 L991.5,325.2 L992.0,325.2 L992.5,322.7 L993.0,322.7 L993.5,322.7 L994.0,326.3 L994.5,326.3 L995.0,326.2 L995.5,326.2 L996.0,326.2 L996.5,322.6 L997.0,322.6 L997.5,322.6 L998.0,325.5 L998.5,325.4 L999.0,325.4 L999.5,325.4 L1000.0,325.4 L1000.5,325.3 L1001.0,325.3 L1001.5,323.8 L1002.0,323.7 L1002.5,325.8 L1003.0,325.7 L1003.5,325.7 L1004.0,325.6 L1004.5,325.6 L1005.0,325.5 L1005.5,325.5 L1006.0,321.1 L1006.5,320.9 L1007.0,320.8 L1007.5,324.2 L1008.0,324.2 L1008.5,324.2 L1009.0,324.2 L1009.5,324.2 L1010.0,321.0 L1010.5,321.0 L1011.0,321.0 L1011.5,321.0 L1012.0,325.7 L1012.5,325.7 L1013.0,325.7 L1013.5,325.7 L1014.0,325.7 L1014.5,325.7 L1015.0,325.7 L1015.5,321.7 L1016.0,321.7 L1016.5,321.7 L1017.0,325.5 L1017.5,325.5 L1018.0,325.8 L1018.5,325.8 L1019.0,325.5 L1019.5,325.5 L1020.0,322.0 L1020.5,322.0 L1021.0,321.9 L1021.5,321.8 L1022.0,323.8 L1022.5,323.8 L1023.0,323.7 L1023.5,323.7 L1024.0,323.6 L1024.5,323.5 L1025.0,321.9 L1025.5,321.8 L1026.0,321.7 L1026.5,323.1 L1027.0,323.1 L1027.5,323.0 L1028.0,323.0 L1028.5,322.9 L1029.0,318.4 L1029.5,318.3 L1030.0,318.2 L1030.5,317.6 L1031.0,321.7 L1031.5,321.1 L1032.0,320.5 L1032.5,320.0 L1033.0,315.1 L1033.5,314.5 L1034.0,313.9 L1034.5,317.8 L1035.0,317.3 L1035.5,317.0 L1036.0,313.1 L1036.5,312.9 L1037.0,312.7 L1037.5,316.4 L1038.0,316.1 L1038.5,315.8 L1039.0,315.5 L1039.5,310.5 L1040.0,310.3 L1040.5,310.1 L1041.0,315.7 L1041.5,315.4 L1042.0,315.1 L1042.5,314.8 L1043.0,309.9 L1043.5,309.8 L1044.0,313.1 L1044.5,312.8 L1045.0,312.6 L1045.5,312.4 L1046.0,312.2 L1046.5,310.0 L1047.0,309.8 L1047.5,309.7 L1048.0,311.0 L1048.5,310.8 L1049.0,310.6 L1049.5,310.4 L1050.0,310.2 L1050.5,307.9 L1051.0,307.7 L1051.5,307.6 L1052.0,309.5 L1052.5,309.1 L1053.0,308.7 L1053.5,308.2 L1054.0,308.5 L1054.5,304.7 L1055.0,304.1 L1055.5,305.5 L1056.0,305.0 L1056.5,304.5 L1057.0,304.0 L1057.5,301.3 L1058.0,300.7 L1058.5,302.7 L1059.0,302.5 L1059.5,302.4 L1060.0,302.2 L1060.5,298.8 L1061.0,298.7 L1061.5,303.0 L1062.0,302.8 L1062.5,302.7 L1063.0,302.5 L1063.5,302.3 L1064.0,302.2 L1064.5,298.5 L1065.0,298.4 L1065.5,298.6 L1066.0,298.8 L1066.5,302.2 L1067.0,302.7 L1067.5,303.1 L1068.0,303.6 L1068.5,304.0 L1069.0,304.5 L1069.5,301.5 L1070.0,301.8 L1070.5,302.1 L1071.0,307.6 L1071.5,308.1 L1072.0,308.6 L1072.5,307.7 L1073.0,306.7 L1073.5,305.7 L1074.0,304.7 L1074.5,303.7 L1075.0,295.2 L1075.5,267.5 L1076.0,267.5 L1076.5,267.5 L1077.0,301.1 L1077.5,301.9 L1078.0,302.6 L1078.5,303.3 L1079.0,304.0 L1079.5,304.7 L1080.0,286.6 L1080.5,287.6 L1081.0,288.6 L1081.5,289.6 L1082.0,308.7 L1082.5,309.5 L1083.0,310.3 L1083.5,311.1 L1084.0,311.9 L1084.5,296.4 L1085.0,297.4 L1085.5,312.8 L1086.0,313.6 L1086.5,314.5 L1087.0,303.7 L1087.5,303.1 L1088.0,302.5 L1088.5,319.8 L1089.0,319.0 L1089.5,318.2 L1090.0,317.4 L1090.5,316.6 L1091.0,295.5 L1091.5,294.9 L1092.0,294.4 L1092.5,307.2 L1093.0,306.5 L1093.5,306.4 L1094.0,306.3 L1094.5,306.3 L1095.0,306.2 L1095.5,296.6 L1096.0,296.3 L1096.5,296.1 L1097.0,313.6 L1097.5,313.7 L1098.0,313.7 L1098.5,295.3 L1099.0,295.8 L1099.5,296.3 L1100.0,301.2 L1100.0,310.5 L1099.5,317.7 L1099.0,312.5 L1098.5,316.5 L1098.0,320.4 L1097.5,332.7 L1097.0,332.4 L1096.5,332.1 L1096.0,318.1 L1095.5,318.0 L1095.0,317.9 L1094.5,317.8 L1094.0,317.7 L1093.5,317.6 L1093.0,317.5 L1092.5,336.3 L1092.0,337.4 L1091.5,338.5 L1091.0,325.4 L1090.5,326.3 L1090.0,327.2 L1089.5,328.2 L1089.0,329.1 L1088.5,330.0 L1088.0,330.9 L1087.5,331.8 L1087.0,348.0 L1086.5,347.6 L1086.0,347.2 L1085.5,346.7 L1085.0,326.1 L1084.5,325.5 L1084.0,324.8 L1083.5,324.2 L1083.0,340.4 L1082.5,339.9 L1082.0,339.4 L1081.5,338.9 L1081.0,326.3 L1080.5,325.7 L1080.0,325.1 L1079.5,323.7 L1079.0,327.8 L1078.5,326.1 L1078.0,324.4 L1077.5,310.8 L1077.0,309.6 L1076.5,308.5 L1076.0,325.5 L1075.5,325.4 L1075.0,311.5 L1074.5,312.1 L1074.0,312.6 L1073.5,313.2 L1073.0,313.7 L1072.5,322.2 L1072.0,322.2 L1071.5,314.8 L1071.0,314.0 L1070.5,313.3 L1070.0,312.5 L1069.5,311.7 L1069.0,313.2 L1068.5,312.3 L1068.0,311.4 L1067.5,310.5 L1067.0,306.4 L1066.5,305.7 L1066.0,305.0 L1065.5,304.3 L1065.0,303.6 L1064.5,303.8 L1064.0,304.4 L1063.5,309.1 L1063.0,309.3 L1062.5,309.5 L1062.0,309.7 L1061.5,305.6 L1061.0,305.8 L1060.5,305.9 L1060.0,306.1 L1059.5,306.3 L1059.0,306.5 L1058.5,311.0 L1058.0,311.2 L1057.5,311.4 L1057.0,308.8 L1056.5,309.1 L1056.0,309.4 L1055.5,310.7 L1055.0,311.0 L1054.5,311.2 L1054.0,311.5 L1053.5,310.2 L1053.0,310.7 L1052.5,311.1 L1052.0,311.5 L1051.5,311.0 L1051.0,311.3 L1050.5,313.0 L1050.0,313.3 L1049.5,313.6 L1049.0,313.0 L1048.5,313.2 L1048.0,313.5 L1047.5,313.8 L1047.0,314.1 L1046.5,314.4 L1046.0,314.7 L1045.5,315.0 L1045.0,318.2 L1044.5,318.6 L1044.0,316.2 L1043.5,316.5 L1043.0,316.8 L1042.5,317.2 L1042.0,317.6 L1041.5,322.1 L1041.0,322.6 L1040.5,317.7 L1040.0,318.0 L1039.5,318.4 L1039.0,318.8 L1038.5,324.7 L1038.0,325.2 L1037.5,321.0 L1037.0,321.4 L1036.5,321.8 L1036.0,322.2 L1035.5,326.8 L1035.0,327.3 L1034.5,327.8 L1034.0,328.3 L1033.5,323.3 L1033.0,323.9 L1032.5,324.4 L1032.0,325.0 L1031.5,325.5 L1031.0,326.0 L1030.5,326.6 L1030.0,333.0 L1029.5,332.9 L1029.0,332.9 L1028.5,327.7 L1028.0,327.8 L1027.5,327.8 L1027.0,327.8 L1026.5,333.0 L1026.0,332.9 L1025.5,328.0 L1025.0,328.0 L1024.5,328.0 L1024.0,328.0 L1023.5,328.0 L1023.0,332.8 L1022.5,332.8 L1022.0,332.7 L1021.5,327.0 L1021.0,327.0 L1020.5,327.1 L1020.0,327.1 L1019.5,327.5 L1019.0,327.5 L1018.5,332.4 L1018.0,332.4 L1017.5,327.5 L1017.0,327.5 L1016.5,326.9 L1016.0,326.9 L1015.5,330.8 L1015.0,330.8 L1014.5,330.8 L1014.0,327.7 L1013.5,327.7 L1013.0,327.7 L1012.5,327.7 L1012.0,332.6 L1011.5,332.6 L1011.0,328.1 L1010.5,328.1 L1010.0,328.1 L1009.5,328.1 L1009.0,328.1 L1008.5,341.5 L1008.0,341.5 L1007.5,341.5 L1007.0,330.3 L1006.5,330.3 L1006.0,328.3 L1005.5,328.3 L1005.0,328.3 L1004.5,328.3 L1004.0,328.3 L1003.5,328.3 L1003.0,328.3 L1002.5,328.3 L1002.0,331.2 L1001.5,331.1 L1001.0,327.9 L1000.5,327.9 L1000.0,327.9 L999.5,327.9 L999.0,327.9 L998.5,328.0 L998.0,328.0 L997.5,331.2 L997.0,331.3 L996.5,331.3 L996.0,328.2 L995.5,328.2 L995.0,328.2 L994.5,328.3 L994.0,328.3 L993.5,328.2 L993.0,328.3 L992.5,332.4 L992.0,332.5 L991.5,332.5 L991.0,332.6 L990.5,328.8 L990.0,328.8 L989.5,329.3 L989.0,329.8 L988.5,330.3 L988.0,330.7 L987.5,331.2 L987.0,331.7 L986.5,336.2 L986.0,336.7 L985.5,332.9 L985.0,333.4 L984.5,333.8 L984.0,338.2 L983.5,338.7 L983.0,339.2 L982.5,335.6 L982.0,336.1 L981.5,336.6 L981.0,337.1 L980.5,336.8 L980.0,342.1 L979.5,342.5 L979.0,342.9 L978.5,340.3 L978.0,340.6 L977.5,340.9 L977.0,341.3 L976.5,344.2 L976.0,344.5 L975.5,344.9 L975.0,342.3 L974.5,342.7 L974.0,343.0 L973.5,343.3 L973.0,343.7 L972.5,347.7 L972.0,348.1 L971.5,344.8 L971.0,345.2 L970.5,345.5 L970.0,345.8 L969.5,346.0 L969.0,346.2 L968.5,349.8 L968.0,349.9 L967.5,350.0 L967.0,350.1 L966.5,346.4 L966.0,346.6 L965.5,346.8 L965.0,347.0 L964.5,351.8 L964.0,351.9 L963.5,352.0 L963.0,352.1 L962.5,347.4 L962.0,347.2 L961.5,347.4 L961.0,347.6 L960.5,348.3 L960.0,348.5 L959.5,352.1 L959.0,352.4 L958.5,352.7 L958.0,349.8 L957.5,350.1 L957.0,350.4 L956.5,350.7 L956.0,351.0 L955.5,351.2 L955.0,351.5 L954.5,351.8 L954.0,356.0 L953.5,356.3 L953.0,353.6 L952.5,353.9 L952.0,354.2 L951.5,356.5 L951.0,356.8 L950.5,357.2 L950.0,357.5 L949.5,354.7 L949.0,355.0 L948.5,366.5 L948.0,366.5 L947.5,366.5 L947.0,359.3 L946.5,357.0 L946.0,357.0 L945.5,357.1 L945.0,357.2 L944.5,357.2 L944.0,357.3 L943.5,359.5 L943.0,359.5 L942.5,359.5 L942.0,357.4 L941.5,357.4 L941.0,357.5 L940.5,360.3 L940.0,360.3 L939.5,360.5 L939.0,357.3 L938.5,357.5 L938.0,357.7 L937.5,357.9 L937.0,358.1 L936.5,359.9 L936.0,360.1 L935.5,360.3 L935.0,360.5 L934.5,359.1 L934.0,359.3 L933.5,359.5 L933.0,359.7 L932.5,360.0 L932.0,360.2 L931.5,363.2 L931.0,363.4 L930.5,363.6 L930.0,363.8 L929.5,361.4 L929.0,361.8 L928.5,362.2 L928.0,362.6 L927.5,363.0 L927.0,363.0 L926.5,363.4 L926.0,363.8 L925.5,368.1 L925.0,368.6 L924.5,369.1 L924.0,369.6 L923.5,367.6 L923.0,368.0 L922.5,368.5 L922.0,368.9 L921.5,369.4 L921.0,369.8 L920.5,370.2 L920.0,370.7 L919.5,374.3 L919.0,374.2 L918.5,369.0 L918.0,369.0 L917.5,369.0 L917.0,373.5 L916.5,373.4 L916.0,373.4 L915.5,368.5 L915.0,369.0 L914.5,369.6 L914.0,370.2 L913.5,370.9 L913.0,371.5 L912.5,375.4 L912.0,376.0 L911.5,374.7 L911.0,375.3 L910.5,375.9 L910.0,376.6 L909.5,377.2 L909.0,377.8 L908.5,378.5 L908.0,381.5 L907.5,382.2 L907.0,382.8 L906.5,383.5 L906.0,381.2 L905.5,381.8 L905.0,382.5 L904.5,382.3 L904.0,382.2 L903.5,382.1 L903.0,381.9 L902.5,384.3 L902.0,384.2 L901.5,384.0 L901.0,383.8 L900.5,380.8 L900.0,380.7 L899.5,381.0 L899.0,385.0 L898.5,385.4 L898.0,385.8 L897.5,381.9 L897.0,382.1 L896.5,382.4 L896.0,382.7 L895.5,383.0 L895.0,383.2 L894.5,387.5 L894.0,387.8 L893.5,388.2 L893.0,388.6 L892.5,385.6 L892.0,385.9 L891.5,386.2 L891.0,386.5 L890.5,386.8 L890.0,387.2 L889.5,387.4 L889.0,387.7 L888.5,393.4 L888.0,393.7 L887.5,389.2 L887.0,389.5 L886.5,389.7 L886.0,390.0 L885.5,394.1 L885.0,394.4 L884.5,389.3 L884.0,389.5 L883.5,389.8 L883.0,390.0 L882.5,390.3 L882.0,395.6 L881.5,395.9 L881.0,396.1 L880.5,391.7 L880.0,392.0 L879.5,392.2 L879.0,392.5 L878.5,392.7 L878.0,392.9 L877.5,397.2 L877.0,397.4 L876.5,394.2 L876.0,394.4 L875.5,394.6 L875.0,394.9 L874.5,395.1 L874.0,395.4 L873.5,395.6 L873.0,399.8 L872.5,400.1 L872.0,400.3 L871.5,396.3 L871.0,396.5 L870.5,396.7 L870.0,397.0 L869.5,397.2 L869.0,400.0 L868.5,400.2 L868.0,400.4 L867.5,397.8 L867.0,398.1 L866.5,398.3 L866.0,398.6 L865.5,398.8 L865.0,399.0 L864.5,399.3 L864.0,404.5 L863.5,404.6 L863.0,404.6 L862.5,404.8 L862.0,400.1 L861.5,400.2 L861.0,400.4 L860.5,400.5 L860.0,402.6 L859.5,402.7 L859.0,402.9 L858.5,403.0 L858.0,401.4 L857.5,401.6 L857.0,401.7 L856.5,401.8 L856.0,402.0 L855.5,405.6 L855.0,405.7 L854.5,402.5 L854.0,402.8 L853.5,403.0 L853.0,403.3 L852.5,403.5 L852.0,407.3 L851.5,407.6 L851.0,407.9 L850.5,405.9 L850.0,406.2 L849.5,406.5 L849.0,406.7 L848.5,407.0 L848.0,408.5 L847.5,408.8 L847.0,409.1 L846.5,408.0 L846.0,408.3 L845.5,408.6 L845.0,408.9 L844.5,409.0 L844.0,409.2 L843.5,412.2 L843.0,412.3 L842.5,408.2 L842.0,408.3 L841.5,408.5 L841.0,408.6 L840.5,408.8 L840.0,408.9 L839.5,409.1 L839.0,409.2 L838.5,412.4 L838.0,412.5 L837.5,409.4 L837.0,409.6 L836.5,409.7 L836.0,409.9 L835.5,410.0 L835.0,410.2 L834.5,412.6 L834.0,412.7 L833.5,410.5 L833.0,410.6 L832.5,410.8 L832.0,411.0 L831.5,411.2 L831.0,411.3 L830.5,417.0 L830.0,417.1 L829.5,417.3 L829.0,413.5 L828.5,413.7 L828.0,413.8 L827.5,417.7 L827.0,417.9 L826.5,413.3 L826.0,413.5 L825.5,413.9 L825.0,414.3 L824.5,414.7 L824.0,415.0 L823.5,420.2 L823.0,420.7 L822.5,421.1 L822.0,417.2 L821.5,417.6 L821.0,418.0 L820.5,418.4 L820.0,418.8 L819.5,420.7 L819.0,421.1 L818.5,421.5 L818.0,420.1 L817.5,420.4 L817.0,420.8 L816.5,421.1 L816.0,421.5 L815.5,427.1 L815.0,427.4 L814.5,427.8 L814.0,428.2 L813.5,424.3 L813.0,424.6 L812.5,425.0 L812.0,425.3 L811.5,430.1 L811.0,430.5 L810.5,430.9 L810.0,425.8 L809.5,426.0 L809.0,426.2 L808.5,426.4 L808.0,426.6 L807.5,430.8 L807.0,430.9 L806.5,431.1 L806.0,426.1 L805.5,426.3 L805.0,426.5 L804.5,426.7 L804.0,432.2 L803.5,432.3 L803.0,432.5 L802.5,432.7 L802.0,429.0 L801.5,429.2 L801.0,429.4 L800.5,429.6 L800.0,429.7 L799.5,433.5 L799.0,434.0 L798.5,434.5 L798.0,429.5 L797.5,429.8 L797.0,430.1 L796.5,430.4 L796.0,430.6 L795.5,430.9 L795.0,431.2 L794.5,438.9 L794.0,439.4 L793.5,439.9 L793.0,435.5 L792.5,435.9 L792.0,436.3 L791.5,436.6 L791.0,441.5 L790.5,442.0 L790.0,442.5 L789.5,442.5 L789.0,437.5 L788.5,437.6 L788.0,437.7 L787.5,437.8 L787.0,437.9 L786.5,437.9 L786.0,445.3 L785.5,445.3 L785.0,437.5 L784.5,437.1 L784.0,436.8 L783.5,436.4 L783.0,436.0 L782.5,440.7 L782.0,440.1 L781.5,434.7 L781.0,434.3 L780.5,434.0 L780.0,433.6 L779.5,438.6 L779.0,438.0 L778.5,437.3 L778.0,432.7 L777.5,432.9 L777.0,433.1 L776.5,433.3 L776.0,433.5 L775.5,433.7 L775.0,437.2 L774.5,437.4 L774.0,437.5 L773.5,437.6 L773.0,434.0 L772.5,434.2 L772.0,434.4 L771.5,434.6 L771.0,434.8 L770.5,437.6 L770.0,437.7 L769.5,438.3 L769.0,435.5 L768.5,436.1 L768.0,436.7 L767.5,437.2 L767.0,442.2 L766.5,442.8 L766.0,443.4 L765.5,440.1 L765.0,440.7 L764.5,441.2 L764.0,441.8 L763.5,442.4 L763.0,446.3 L762.5,446.9 L762.0,447.4 L761.5,444.7 L761.0,445.2 L760.5,445.8 L760.0,446.4 L759.5,446.9 L759.0,447.5 L758.5,448.1 L758.0,451.8 L757.5,452.0 L757.0,449.1 L756.5,449.3 L756.0,449.5 L755.5,449.7 L755.0,449.9 L754.5,450.1 L754.0,453.9 L753.5,454.1 L753.0,454.2 L752.5,450.6 L752.0,450.8 L751.5,450.5 L751.0,450.7 L750.5,450.9 L750.0,451.6 L749.5,454.7 L749.0,454.9 L748.5,452.0 L748.0,452.1 L747.5,452.3 L747.0,452.5 L746.5,455.0 L746.0,455.1 L745.5,455.3 L745.0,455.5 L744.5,454.0 L744.0,454.5 L743.5,455.0 L743.0,454.9 L742.5,455.4 L742.0,459.3 L741.5,459.8 L741.0,457.5 L740.5,458.0 L740.0,458.5 L739.5,459.0 L739.0,459.5 L738.5,462.4 L738.0,462.9 L737.5,461.7 L737.0,462.2 L736.5,462.7 L736.0,463.2 L735.5,465.4 L735.0,465.9 L734.5,464.2 L734.0,464.7 L733.5,465.2 L733.0,465.7 L732.5,466.2 L732.0,468.9 L731.5,469.4 L731.0,469.9 L730.5,468.4 L730.0,468.9 L729.5,469.3 L729.0,469.7 L728.5,470.0 L728.0,470.4 L727.5,470.8 L727.0,473.8 L726.5,474.2 L726.0,474.7 L725.5,475.1 L725.0,472.2 L724.5,472.6 L724.0,473.0 L723.5,473.4 L723.0,473.7 L722.5,474.1 L722.0,474.5 L721.5,477.9 L721.0,478.3 L720.5,475.4 L720.0,475.4 L719.5,475.8 L719.0,476.2 L718.5,476.5 L718.0,476.9 L717.5,480.9 L717.0,481.3 L716.5,481.7 L716.0,480.2 L715.5,480.6 L715.0,481.0 L714.5,484.6 L714.0,484.9 L713.5,482.0 L713.0,482.4 L712.5,482.7 L712.0,483.1 L711.5,483.5 L711.0,483.9 L710.5,484.3 L710.0,486.5 L709.5,486.9 L709.0,487.2 L708.5,484.4 L708.0,484.8 L707.5,485.2 L707.0,485.6 L706.5,486.0 L706.0,486.4 L705.5,486.8 L705.0,491.3 L704.5,491.8 L704.0,492.3 L703.5,492.7 L703.0,488.9 L702.5,489.4 L702.0,489.8 L701.5,490.7 L701.0,491.2 L700.5,491.6 L700.0,492.1 L699.5,496.3 L699.0,496.8 L698.5,493.9 L698.0,494.3 L697.5,494.8 L697.0,495.2 L696.5,495.7 L696.0,498.3 L695.5,498.7 L695.0,499.2 L694.5,498.2 L694.0,498.6 L693.5,499.1 L693.0,499.6 L692.5,500.0 L692.0,500.5 L691.5,501.5 L691.0,502.0 L690.5,502.5 L690.0,501.3 L689.5,501.8 L689.0,502.3 L688.5,502.7 L688.0,503.2 L687.5,503.7 L687.0,508.0 L686.5,508.5 L686.0,504.8 L685.5,505.3 L685.0,505.8 L684.5,506.3 L684.0,509.4 L683.5,509.9 L683.0,507.8 L682.5,508.3 L682.0,508.8 L681.5,509.3 L681.0,513.3 L680.5,513.8 L680.0,514.3 L679.5,514.6 L679.0,511.7 L678.5,512.0 L678.0,512.4 L677.5,512.7 L677.0,513.0 L676.5,517.5 L676.0,517.8 L675.5,518.1 L675.0,518.3 L674.5,515.0 L674.0,515.3 L673.5,515.6 L673.0,515.9 L672.5,519.0 L672.0,519.3 L671.5,519.5 L671.0,519.8 L670.5,516.7 L670.0,517.4 L669.5,517.7 L669.0,518.0 L668.5,518.3 L668.0,522.4 L667.5,522.7 L667.0,522.9 L666.5,523.2 L666.0,519.9 L665.5,520.3 L665.0,520.6 L664.5,520.9 L664.0,524.2 L663.5,524.5 L663.0,522.2 L662.5,522.5 L662.0,522.8 L661.5,523.4 L661.0,523.9 L660.5,524.5 L660.0,528.0 L659.5,528.6 L659.0,529.2 L658.5,525.8 L658.0,526.4 L657.5,526.9 L657.0,527.4 L656.5,528.0 L656.0,528.5 L655.5,529.0 L655.0,531.9 L654.5,532.5 L654.0,533.1 L653.5,533.7 L653.0,531.3 L652.5,531.9 L652.0,532.9 L651.5,532.9 L651.0,533.5 L650.5,534.0 L650.0,534.5 L649.5,535.1 L649.0,541.5 L648.5,542.0 L648.0,542.6 L647.5,538.5 L647.0,539.1 L646.5,539.6 L646.0,540.2 L645.5,540.8 L645.0,541.4 L644.5,544.6 L644.0,545.1 L643.5,545.7 L643.0,546.2 L642.5,544.3 L642.0,544.9 L641.5,545.5 L641.0,546.0 L640.5,546.6 L640.0,547.2 L639.5,550.8 L639.0,551.3 L638.5,548.4 L638.0,548.9 L637.5,549.5 L637.0,550.1 L636.5,550.7 L636.0,554.4 L635.5,555.0 L635.0,555.5 L634.5,553.6 L634.0,554.0 L633.5,554.3 L633.0,554.7 L632.5,555.1 L632.0,555.4 L631.5,558.1 L631.0,558.5 L630.5,558.9 L630.0,557.0 L629.5,557.4 L629.0,557.7 L628.5,558.1 L628.0,558.5 L627.5,558.8 L627.0,559.2 L626.5,559.6 L626.0,562.5 L625.5,562.9 L625.0,560.5 L624.5,560.9 L624.0,561.3 L623.5,561.6 L623.0,564.7 L622.5,565.1 L622.0,565.4 L621.5,565.8 L621.0,562.5 L620.5,562.8 L620.0,563.2 L619.5,563.7 L619.0,567.7 L618.5,567.8 L618.0,568.0 L617.5,564.3 L617.0,564.4 L616.5,564.6 L616.0,564.8 L615.5,565.0 L615.0,565.2 L614.5,569.5 L614.0,569.6 L613.5,569.8 L613.0,566.3 L612.5,566.4 L612.0,566.6 L611.5,566.8 L611.0,566.9 L610.5,570.1 L610.0,570.3 L609.5,570.4 L609.0,570.6 L608.5,567.6 L608.0,567.7 L607.5,567.9 L607.0,568.1 L606.5,568.2 L606.0,568.4 L605.5,568.6 L605.0,572.0 L604.5,572.6 L604.0,573.2 L603.5,570.7 L603.0,571.3 L602.5,571.8 L602.0,572.4 L601.5,573.0 L601.0,573.5 L600.5,574.1 L600.0,574.7 L599.5,578.7 L599.0,579.3 L598.5,579.9 L598.0,575.6 L597.5,576.1 L597.0,576.7 L596.5,577.3 L596.0,577.8 L595.5,579.1 L595.0,579.7 L594.5,583.7 L594.0,584.3 L593.5,580.9 L593.0,581.5 L592.5,582.4 L592.0,583.0 L591.5,583.4 L591.0,583.8 L590.5,588.5 L590.0,588.9 L589.5,589.2 L589.0,589.5 L588.5,586.0 L588.0,586.3 L587.5,586.7 L587.0,587.1 L586.5,587.4 L586.0,587.8 L585.5,591.3 L585.0,591.6 L584.5,591.9 L584.0,589.6 L583.5,589.9 L583.0,590.3 L582.5,590.6 L582.0,591.0 L581.5,591.4 L581.0,591.7 L580.5,592.1 L580.0,595.3 L579.5,595.9 L579.0,594.0 L578.5,594.5 L578.0,595.1 L577.5,595.7 L577.0,596.3 L576.5,599.9 L576.0,600.5 L575.5,601.1 L575.0,601.7 L574.5,599.5 L574.0,600.1 L573.5,600.6 L573.0,601.2 L572.5,601.8 L572.0,602.4 L571.5,604.1 L571.0,604.7 L570.5,602.6 L570.0,603.5 L569.5,603.9 L569.0,604.3 L568.5,604.7 L568.0,605.1 L567.5,605.2 L567.0,608.1 L566.5,608.6 L566.0,608.0 L565.5,608.4 L565.0,608.9 L564.5,609.3 L564.0,609.7 L563.5,612.3 L563.0,612.8 L562.5,613.2 L562.0,609.8 L561.5,610.3 L561.0,610.7 L560.5,611.1 L560.0,611.5 L559.5,611.6 L559.0,611.8 L558.5,616.1 L558.0,616.4 L557.5,616.7 L557.0,613.4 L556.5,613.6 L556.0,613.8 L555.5,614.0 L555.0,614.2 L554.5,619.0 L554.0,619.3 L553.5,619.6 L553.0,619.9 L552.5,616.1 L552.0,616.3 L551.5,616.5 L551.0,621.8 L550.5,622.1 L550.0,622.4 L549.5,617.7 L549.0,618.4 L548.5,619.1 L548.0,619.8 L547.5,620.5 L547.0,621.2 L546.5,621.9 L546.0,622.6 L545.5,625.3 L545.0,626.0 L544.5,624.8 L544.0,625.5 L543.5,626.2 L543.0,627.0 L542.5,627.7 L542.0,631.6 L541.5,632.2 L541.0,632.8 L540.5,629.6 L540.0,630.3 L539.5,630.7 L539.0,631.1 L538.5,631.5 L538.0,631.9 L537.5,632.3 L537.0,634.3 L536.5,634.8 L536.0,634.1 L535.5,634.4 L535.0,634.8 L534.5,635.2 L534.0,639.2 L533.5,639.6 L533.0,640.0 L532.5,640.5 L532.0,635.6 L531.5,636.0 L531.0,636.3 L530.5,636.7 L530.0,637.1 L529.5,637.5 L529.0,637.8 L528.5,644.4 L528.0,644.8 L527.5,645.3 L527.0,641.3 L526.5,641.7 L526.0,642.1 L525.5,642.4 L525.0,642.8 L524.5,643.3 L524.0,643.7 L523.5,648.5 L523.0,648.9 L522.5,649.3 L522.0,649.7 L521.5,646.1 L521.0,646.6 L520.5,647.0 L520.0,647.4 L519.5,647.9 L519.0,648.3 L518.5,648.8 L518.0,649.2 L517.5,651.7 L517.0,652.1 L516.5,652.5 L516.0,650.3 L515.5,650.8 L515.0,651.2 L514.5,651.7 L514.0,652.1 L513.5,656.2 L513.0,656.6 L512.5,657.0 L512.0,653.0 L511.5,653.6 L511.0,654.1 L510.5,654.6 L510.0,659.9 L509.5,660.5 L509.0,661.1 L508.5,657.2 L508.0,657.7 L507.5,658.2 L507.0,658.7 L506.5,659.3 L506.0,659.8 L505.5,660.3 L505.0,666.2 L504.5,666.8 L504.0,663.2 L503.5,663.7 L503.0,664.3 L502.5,665.5 L502.0,665.8 L501.5,666.2 L501.0,666.5 L500.5,664.1 L500.0,664.5 L499.5,664.9 L499.0,665.3 L498.5,665.7 L498.0,666.1 L497.5,666.5 L497.0,671.4 L496.5,671.7 L496.0,669.5 L495.5,669.9 L495.0,670.2 L494.5,670.8 L494.0,671.3 L493.5,673.0 L493.0,673.5 L492.5,674.1 L492.0,673.5 L491.5,674.1 L491.0,674.6 L490.5,675.1 L490.0,679.0 L489.5,679.6 L489.0,676.3 L488.5,676.8 L488.0,677.3 L487.5,677.8 L487.0,679.6 L486.5,680.2 L486.0,679.3 L485.5,679.8 L485.0,680.3 L484.5,680.4 L484.0,680.5 L483.5,680.5 L483.0,680.6 L482.5,680.7 L482.0,685.5 L481.5,685.6 L481.0,681.2 L480.5,681.3 L480.0,681.3 L479.5,681.4 L479.0,681.5 L478.5,685.8 L478.0,685.9 L477.5,685.9 L477.0,679.3 L476.5,679.3 L476.0,679.4 L475.5,679.5 L475.0,679.6 L474.5,680.3 L474.0,687.7 L473.5,688.4 L473.0,689.2 L472.5,685.0 L472.0,685.7 L471.5,686.5 L471.0,687.2 L470.5,687.9 L470.0,692.8 L469.5,693.6 L469.0,694.4 L468.5,688.5 L468.0,689.2 L467.5,689.9 L467.0,697.7 L466.5,698.5 L466.0,692.7 L465.5,693.0 L465.0,693.3 L464.5,693.6 L464.0,693.9 L463.5,694.2 L463.0,694.4 L462.5,700.6 L462.0,700.8 L461.5,701.0 L461.0,695.7 L460.5,696.0 L460.0,696.3 L459.5,696.6 L459.0,696.8 L458.5,697.1 L458.0,697.4 L457.5,703.3 L457.0,703.5 L456.5,704.0 L456.0,697.6 L455.5,697.5 L455.0,697.5 L454.5,697.4 L454.0,697.3 L453.5,697.2 L453.0,697.2 L452.5,708.7 L452.0,709.2 L451.5,709.7 L451.0,710.3 L450.5,696.9 L450.0,696.9 L449.5,697.0 L449.0,697.1 L448.5,708.5 L448.0,708.6 L447.5,698.7 L447.0,698.9 L446.5,699.0 L446.0,699.1 L445.5,699.3 L445.0,710.9 L444.5,711.1 L444.0,711.2 L443.5,700.9 L443.0,701.1 L442.5,701.2 L442.0,701.3 L441.5,701.5 L441.0,701.6 L440.5,701.7 L440.0,716.3 L439.5,716.7 L439.0,717.1 L438.5,699.7 L438.0,700.1 L437.5,700.5 L437.0,700.9 L436.5,701.3 L436.0,701.6 L435.5,702.0 L435.0,717.5 L434.5,717.8 L434.0,718.2 L433.5,707.7 L433.0,708.1 L432.5,708.6 L432.0,709.2 L431.5,709.7 L431.0,710.2 L430.5,721.7 L430.0,722.2 L429.5,722.8 L429.0,723.4 L428.5,714.1 L428.0,714.6 L427.5,715.1 L427.0,715.6 L426.5,716.1 L426.0,716.6 L425.5,724.3 L425.0,724.7 L424.5,725.0 L424.0,718.1 L423.5,718.4 L423.0,718.6 L422.5,718.8 L422.0,767.5 L421.5,767.5 L421.0,767.5 L420.5,729.0 L420.0,729.0Z" stroke-width="3" stroke-linejoin="round"/>
<path d="M266.0,1047.0 L267.8,1038.3 L271.6,1038.3 L271.6,1031.7 L274.5,1031.7 L274.5,1024.2 L277.7,1024.2 L277.7,1016.9 L280.9,1016.9 L280.9,1007.9 L284.8,1007.9 L284.8,999.0 L288.7,999.0 L288.7,989.4 L292.9,989.4 L292.9,982.6 L295.8,982.6 L295.8,974.6 L299.3,974.6 L299.3,968.0 L302.2,968.0 L302.2,960.7 L305.3,960.7 L305.3,952.4 L308.9,952.4 L309.0,945.8 L311.9,945.8 L311.9,938.7 L315.0,938.7 L315.0,929.9 L318.9,929.9 L318.9,921.5 L322.7,921.5 L322.7,914.2 L325.9,914.2 L325.9,905.6 L329.7,905.6 L329.7,896.3 L333.8,896.3 L333.8,889.8 L336.7,889.8 L336.7,880.5 L340.8,880.5 L340.8,871.5 L344.8,871.5 L344.8,863.8 L348.2,863.8 L348.3,856.8 L351.6,856.8 L351.6,846.9 L356.3,846.9 L356.3,839.3 L360.0,839.3 L360.0,832.4 L363.2,832.4 L363.2,825.6 L366.4,825.6 L366.4,816.1 L370.9,816.1 L370.9,807.5 L375.0,807.5 L375.0,798.2 L379.4,798.2 L379.4,789.1 L383.7,789.1 L383.5,780.8 L387.3,780.8 L387.3,770.9 L391.5,770.9 L391.5,763.0 L394.8,763.0 L394.8,754.6 L398.3,754.6 L398.3,745.2 L402.2,745.2 L402.2,736.5 L405.9,736.5 L405.9,727.0 L409.8,727.0 L409.8,718.5 L413.4,718.5 L413.4,709.5 L417.2,709.5 L418.5,706.0 L420.0,715.5" fill="none" stroke-width="5.5" stroke-linejoin="round" stroke-linecap="round"/>
<path d="M1100.0,303.0 L1100.5,300.0 L1101.3,415.0 L1102.5,700.0 L1103.5,1046.4 L1351.0,1046.4" fill="none" stroke-width="4" stroke-linejoin="round" stroke-linecap="round"/>
</g>
<g fill="#1A6FDF" stroke="#1A6FDF">
<path d="M417.0,683.0 L417.5,684.6 L418.0,694.5 L418.5,698.0 L419.0,701.5 L419.5,701.7 L420.0,702.0 L420.5,702.2 L421.0,687.9 L421.5,688.1 L422.0,688.4 L422.5,710.6 L423.0,710.8 L423.5,710.8 L424.0,710.8 L424.5,710.8 L425.0,688.0 L425.5,688.0 L426.0,688.0 L426.5,688.0 L427.0,701.3 L427.5,701.3 L428.0,701.3 L428.5,701.4 L429.0,701.5 L429.5,639.5 L430.0,639.5 L430.5,639.5 L431.0,706.5 L431.5,706.5 L432.0,706.6 L432.5,706.7 L433.0,706.7 L433.5,693.5 L434.0,693.6 L434.5,693.7 L435.0,693.9 L435.5,702.6 L436.0,702.5 L436.5,702.4 L437.0,702.3 L437.5,702.1 L438.0,702.0 L438.5,701.9 L439.0,643.5 L439.5,643.5 L440.0,643.5 L440.5,703.9 L441.0,703.8 L441.5,703.7 L442.0,703.6 L442.5,702.5 L443.0,686.4 L443.5,685.2 L444.0,683.9 L444.5,696.2 L445.0,695.1 L445.5,694.0 L446.0,692.9 L446.5,691.8 L447.0,690.6 L447.5,674.1 L448.0,672.9 L448.5,691.6 L449.0,690.8 L449.5,690.1 L450.0,689.3 L450.5,689.1 L451.0,665.2 L451.5,664.5 L452.0,683.9 L452.5,683.5 L453.0,683.2 L453.5,682.8 L454.0,682.5 L454.5,682.1 L455.0,671.1 L455.5,670.6 L456.0,670.1 L456.5,683.0 L457.0,681.4 L457.5,679.8 L458.0,657.6 L458.5,657.3 L459.0,656.9 L459.5,678.4 L460.0,676.5 L460.5,676.5 L461.0,659.4 L461.5,659.2 L462.0,658.9 L462.5,676.6 L463.0,676.6 L463.5,676.6 L464.0,676.6 L464.5,676.6 L465.0,676.7 L465.5,676.7 L466.0,651.8 L466.5,640.5 L467.0,640.5 L467.5,640.5 L468.0,672.6 L468.5,672.0 L469.0,671.3 L469.5,662.8 L470.0,662.4 L470.5,662.1 L471.0,664.8 L471.5,664.3 L472.0,663.8 L472.5,663.3 L473.0,662.8 L473.5,660.1 L474.0,659.8 L474.5,659.4 L475.0,663.9 L475.5,663.2 L476.0,662.5 L476.5,661.8 L477.0,661.1 L477.5,660.4 L478.0,647.2 L478.5,646.1 L479.0,645.0 L479.5,643.9 L480.0,654.8 L480.5,654.0 L481.0,653.2 L481.5,652.5 L482.0,651.7 L482.5,643.7 L483.0,642.7 L483.5,642.3 L484.0,650.2 L484.5,649.8 L485.0,649.3 L485.5,648.8 L486.0,648.4 L486.5,647.9 L487.0,647.4 L487.5,633.0 L488.0,632.7 L488.5,632.3 L489.0,649.3 L489.5,648.8 L490.0,648.3 L490.5,648.1 L491.0,629.3 L491.5,629.2 L492.0,648.0 L492.5,647.8 L493.0,647.6 L493.5,647.4 L494.0,630.7 L494.5,630.7 L495.0,630.6 L495.5,641.6 L496.0,641.4 L496.5,641.2 L497.0,641.0 L497.5,640.9 L498.0,640.7 L498.5,640.5 L499.0,632.7 L499.5,616.5 L500.0,616.5 L500.5,616.5 L501.0,638.6 L501.5,638.4 L502.0,638.3 L502.5,638.1 L503.0,638.0 L503.5,637.9 L504.0,637.7 L504.5,635.2 L505.0,635.1 L505.5,638.0 L506.0,637.8 L506.5,637.7 L507.0,637.5 L507.5,637.4 L508.0,629.1 L508.5,629.1 L509.0,639.3 L509.5,639.2 L510.0,639.0 L510.5,638.5 L511.0,638.0 L511.5,637.6 L512.0,637.1 L512.5,636.6 L513.0,628.8 L513.5,628.3 L514.0,627.8 L514.5,627.3 L515.0,633.5 L515.5,633.0 L516.0,632.6 L516.5,632.1 L517.0,631.6 L517.5,631.1 L518.0,630.7 L518.5,630.2 L519.0,619.7 L519.5,619.2 L520.0,618.6 L520.5,627.5 L521.0,627.1 L521.5,626.6 L522.0,626.1 L522.5,625.6 L523.0,625.1 L523.5,613.5 L524.0,612.9 L524.5,612.3 L525.0,611.7 L525.5,626.0 L526.0,625.6 L526.5,625.1 L527.0,624.7 L527.5,624.2 L528.0,623.8 L528.5,622.3 L529.0,620.8 L529.5,601.5 L530.0,600.0 L530.5,598.4 L531.0,609.8 L531.5,608.3 L532.0,606.7 L532.5,597.5 L533.0,595.9 L533.5,603.6 L534.0,602.1 L534.5,600.6 L535.0,599.1 L535.5,584.4 L536.0,584.7 L536.5,584.9 L537.0,599.6 L537.5,599.4 L538.0,599.3 L538.5,599.2 L539.0,599.1 L539.5,599.0 L540.0,598.9 L540.5,598.8 L541.0,589.6 L541.5,589.8 L542.0,590.0 L542.5,590.2 L543.0,598.3 L543.5,598.2 L544.0,598.1 L544.5,598.0 L545.0,589.2 L545.5,588.8 L546.0,588.3 L546.5,587.9 L547.0,596.5 L547.5,596.3 L548.0,596.1 L548.5,596.0 L549.0,595.8 L549.5,595.6 L550.0,587.4 L550.5,587.1 L551.0,586.7 L551.5,596.9 L552.0,596.7 L552.5,596.6 L553.0,596.5 L553.5,596.4 L554.0,596.3 L554.5,587.5 L555.0,587.3 L555.5,587.2 L556.0,587.0 L556.5,596.0 L557.0,595.9 L557.5,595.8 L558.0,595.7 L558.5,585.3 L559.0,585.1 L559.5,592.6 L560.0,592.4 L560.5,591.6 L561.0,590.8 L561.5,581.0 L562.0,580.1 L562.5,579.2 L563.0,585.4 L563.5,584.6 L564.0,583.7 L564.5,582.9 L565.0,582.1 L565.5,572.2 L566.0,571.3 L566.5,583.6 L567.0,582.8 L567.5,582.0 L568.0,581.2 L568.5,580.4 L569.0,579.6 L569.5,578.8 L570.0,568.7 L570.5,568.0 L571.0,567.4 L571.5,573.9 L572.0,573.2 L572.5,572.5 L573.0,558.6 L573.5,558.0 L574.0,569.8 L574.5,569.1 L575.0,568.4 L575.5,568.1 L576.0,562.5 L576.5,562.3 L577.0,562.0 L577.5,571.4 L578.0,571.1 L578.5,570.7 L579.0,570.4 L579.5,570.1 L580.0,569.8 L580.5,569.4 L581.0,552.9 L581.5,552.6 L582.0,552.4 L582.5,565.9 L583.0,565.6 L583.5,565.3 L584.0,565.0 L584.5,564.7 L585.0,564.4 L585.5,564.0 L586.0,550.8 L586.5,550.8 L587.0,550.8 L587.5,563.2 L588.0,562.9 L588.5,562.6 L589.0,562.2 L589.5,561.9 L590.0,561.6 L590.5,561.2 L591.0,552.6 L591.5,552.6 L592.0,552.5 L592.5,559.0 L593.0,558.7 L593.5,558.4 L594.0,558.1 L594.5,557.8 L595.0,553.1 L595.5,552.5 L596.0,555.3 L596.5,554.8 L597.0,554.3 L597.5,553.8 L598.0,553.3 L598.5,547.2 L599.0,546.6 L599.5,546.0 L600.0,551.4 L600.5,550.9 L601.0,550.4 L601.5,549.9 L602.0,549.5 L602.5,544.0 L603.0,543.4 L603.5,542.8 L604.0,542.2 L604.5,546.7 L605.0,546.2 L605.5,545.8 L606.0,545.4 L606.5,539.7 L607.0,539.2 L607.5,538.7 L608.0,538.3 L608.5,544.0 L609.0,543.6 L609.5,543.1 L610.0,535.6 L610.5,535.1 L611.0,534.6 L611.5,534.1 L612.0,541.4 L612.5,541.0 L613.0,540.6 L613.5,540.1 L614.0,530.0 L614.5,529.5 L615.0,540.2 L615.5,539.8 L616.0,539.4 L616.5,539.0 L617.0,538.6 L617.5,532.4 L618.0,532.4 L618.5,532.3 L619.0,532.2 L619.5,537.1 L620.0,537.0 L620.5,536.9 L621.0,536.8 L621.5,536.7 L622.0,536.6 L622.5,536.6 L623.0,526.4 L623.5,526.4 L624.0,537.3 L624.5,537.2 L625.0,537.2 L625.5,537.1 L626.0,537.0 L626.5,527.6 L627.0,527.5 L627.5,538.0 L628.0,537.5 L628.5,537.0 L629.0,536.4 L629.5,525.7 L630.0,525.3 L630.5,524.9 L631.0,533.1 L631.5,532.6 L632.0,532.1 L632.5,531.6 L633.0,531.1 L633.5,530.6 L634.0,521.1 L634.5,520.7 L635.0,520.3 L635.5,528.8 L636.0,528.3 L636.5,527.8 L637.0,527.2 L637.5,526.7 L638.0,526.2 L638.5,525.7 L639.0,525.2 L639.5,517.4 L640.0,517.0 L640.5,525.0 L641.0,524.6 L641.5,524.2 L642.0,523.7 L642.5,523.3 L643.0,522.9 L643.5,515.2 L644.0,514.7 L644.5,520.5 L645.0,520.0 L645.5,519.6 L646.0,519.2 L646.5,518.7 L647.0,510.6 L647.5,510.2 L648.0,515.8 L648.5,515.2 L649.0,514.7 L649.5,514.1 L650.0,513.5 L650.5,506.8 L651.0,506.0 L651.5,505.2 L652.0,511.5 L652.5,510.9 L653.0,510.3 L653.5,509.8 L654.0,509.2 L654.5,499.9 L655.0,499.1 L655.5,506.5 L656.0,505.9 L656.5,505.3 L657.0,504.7 L657.5,504.8 L658.0,504.8 L658.5,504.9 L659.0,493.8 L659.5,494.1 L660.0,508.9 L660.5,508.9 L661.0,508.9 L661.5,508.9 L662.0,508.9 L662.5,498.8 L663.0,499.0 L663.5,505.0 L664.0,505.1 L664.5,505.1 L665.0,505.2 L665.5,505.3 L666.0,505.4 L666.5,505.4 L667.0,505.5 L667.5,503.4 L668.0,503.1 L668.5,507.9 L669.0,507.5 L669.5,507.1 L670.0,506.8 L670.5,506.4 L671.0,506.1 L671.5,505.7 L672.0,505.3 L672.5,496.2 L673.0,495.8 L673.5,495.5 L674.0,502.7 L674.5,502.4 L675.0,502.0 L675.5,501.7 L676.0,501.3 L676.5,500.9 L677.0,500.6 L677.5,494.8 L678.0,494.4 L678.5,499.8 L679.0,499.5 L679.5,499.1 L680.0,491.2 L680.5,490.5 L681.0,489.8 L681.5,497.6 L682.0,496.7 L682.5,495.9 L683.0,495.1 L683.5,485.8 L684.0,485.1 L684.5,484.4 L685.0,489.9 L685.5,489.1 L686.0,488.4 L686.5,487.8 L687.0,487.2 L687.5,486.7 L688.0,486.1 L688.5,485.6 L689.0,479.1 L689.5,478.4 L690.0,477.8 L690.5,484.3 L691.0,483.7 L691.5,483.2 L692.0,482.7 L692.5,482.1 L693.0,472.0 L693.5,471.3 L694.0,470.6 L694.5,478.9 L695.0,478.3 L695.5,477.8 L696.0,477.2 L696.5,476.7 L697.0,467.5 L697.5,467.6 L698.0,478.7 L698.5,478.6 L699.0,478.5 L699.5,478.4 L700.0,478.2 L700.5,478.1 L701.0,466.4 L701.5,466.5 L702.0,466.6 L702.5,474.6 L703.0,474.6 L703.5,474.5 L704.0,469.2 L704.5,469.2 L705.0,469.2 L705.5,475.2 L706.0,474.5 L706.5,473.9 L707.0,465.4 L707.5,464.7 L708.0,463.9 L708.5,472.5 L709.0,471.9 L709.5,471.3 L710.0,470.7 L710.5,470.1 L711.0,469.5 L711.5,469.0 L712.0,459.0 L712.5,458.3 L713.0,464.7 L713.5,464.1 L714.0,463.5 L714.5,452.9 L715.0,452.3 L715.5,451.8 L716.0,451.2 L716.5,463.4 L717.0,462.9 L717.5,462.5 L718.0,462.1 L718.5,461.6 L719.0,461.2 L719.5,460.8 L720.0,460.3 L720.5,453.6 L721.0,453.1 L721.5,459.8 L722.0,459.4 L722.5,459.0 L723.0,458.7 L723.5,458.3 L724.0,457.9 L724.5,444.6 L725.0,444.5 L725.5,444.4 L726.0,451.9 L726.5,451.7 L727.0,451.4 L727.5,451.2 L728.0,450.9 L728.5,450.7 L729.0,446.7 L729.5,446.6 L730.0,446.4 L730.5,450.5 L731.0,450.2 L731.5,449.8 L732.0,449.5 L732.5,449.1 L733.0,441.2 L733.5,440.8 L734.0,451.3 L734.5,451.0 L735.0,450.7 L735.5,450.4 L736.0,450.1 L736.5,449.8 L737.0,449.6 L737.5,438.1 L738.0,437.6 L738.5,437.2 L739.0,448.2 L739.5,447.9 L740.0,447.6 L740.5,437.9 L741.0,437.6 L741.5,446.8 L742.0,446.3 L742.5,445.8 L743.0,445.3 L743.5,444.7 L744.0,434.7 L744.5,434.5 L745.0,443.0 L745.5,442.5 L746.0,442.0 L746.5,441.5 L747.0,441.0 L747.5,440.5 L748.0,440.0 L748.5,439.5 L749.0,434.7 L749.5,434.3 L750.0,434.0 L750.5,435.1 L751.0,434.8 L751.5,434.5 L752.0,434.1 L752.5,433.8 L753.0,433.5 L753.5,433.1 L754.0,428.6 L754.5,428.2 L755.0,433.0 L755.5,432.7 L756.0,432.3 L756.5,432.0 L757.0,431.7 L757.5,425.9 L758.0,425.6 L758.5,425.2 L759.0,428.7 L759.5,428.4 L760.0,428.1 L760.5,427.3 L761.0,426.5 L761.5,425.8 L762.0,425.0 L762.5,419.4 L763.0,418.7 L763.5,418.0 L764.0,422.4 L764.5,421.7 L765.0,420.9 L765.5,420.2 L766.0,414.3 L766.5,413.6 L767.0,412.9 L767.5,418.2 L768.0,417.5 L768.5,416.7 L769.0,415.9 L769.5,415.1 L770.0,414.4 L770.5,407.9 L771.0,407.5 L771.5,413.8 L772.0,413.5 L772.5,413.3 L773.0,413.1 L773.5,412.8 L774.0,412.6 L774.5,412.3 L775.0,412.1 L775.5,405.9 L776.0,405.6 L776.5,405.3 L777.0,410.2 L777.5,409.9 L778.0,409.7 L778.5,409.4 L779.0,409.2 L779.5,408.9 L780.0,408.6 L780.5,408.4 L781.0,402.5 L781.5,402.2 L782.0,407.5 L782.5,407.3 L783.0,407.0 L783.5,406.7 L784.0,406.4 L784.5,400.3 L785.0,400.1 L785.5,399.9 L786.0,406.6 L786.5,406.3 L787.0,406.0 L787.5,405.7 L788.0,405.4 L788.5,405.1 L789.0,404.8 L789.5,404.5 L790.0,398.2 L790.5,397.6 L791.0,396.9 L791.5,400.5 L792.0,399.9 L792.5,399.3 L793.0,396.5 L793.5,395.9 L794.0,395.2 L794.5,394.6 L795.0,396.8 L795.5,396.2 L796.0,395.6 L796.5,394.9 L797.0,388.8 L797.5,388.1 L798.0,387.4 L798.5,395.4 L799.0,394.8 L799.5,394.2 L800.0,393.6 L800.5,393.2 L801.0,384.0 L801.5,383.6 L802.0,383.2 L802.5,387.7 L803.0,387.3 L803.5,386.8 L804.0,386.4 L804.5,380.5 L805.0,380.1 L805.5,379.7 L806.0,387.9 L806.5,387.4 L807.0,386.9 L807.5,386.5 L808.0,386.1 L808.5,385.6 L809.0,375.4 L809.5,374.5 L810.0,381.3 L810.5,380.6 L811.0,380.0 L811.5,379.4 L812.0,373.0 L812.5,372.1 L813.0,371.3 L813.5,375.9 L814.0,375.2 L814.5,374.6 L815.0,373.9 L815.5,373.3 L816.0,363.7 L816.5,363.2 L817.0,373.5 L817.5,372.8 L818.0,372.1 L818.5,371.3 L819.0,370.6 L819.5,369.9 L820.0,369.2 L820.5,359.3 L821.0,358.8 L821.5,364.8 L822.0,364.2 L822.5,363.5 L823.0,362.8 L823.5,362.2 L824.0,361.5 L824.5,360.8 L825.0,355.0 L825.5,355.8 L826.0,356.5 L826.5,366.7 L827.0,368.8 L827.5,370.9 L828.0,373.0 L828.5,375.1 L829.0,377.2 L829.5,364.6 L830.0,365.6 L830.5,365.3 L831.0,365.0 L831.5,386.0 L832.0,385.8 L832.5,385.7 L833.0,385.5 L833.5,358.0 L834.0,357.7 L834.5,387.7 L835.0,387.5 L835.5,387.9 L836.0,388.2 L836.5,388.6 L837.0,389.0 L837.5,379.9 L838.0,380.7 L838.5,381.5 L839.0,385.3 L839.5,386.0 L840.0,386.6 L840.5,385.7 L841.0,384.8 L841.5,383.9 L842.0,383.0 L842.5,367.1 L843.0,365.8 L843.5,388.7 L844.0,388.0 L844.5,387.3 L845.0,386.6 L845.5,386.2 L846.0,385.9 L846.5,371.5 L847.0,371.2 L847.5,371.0 L848.0,374.3 L848.5,374.0 L849.0,373.7 L849.5,373.4 L850.0,373.2 L850.5,357.6 L851.0,357.4 L851.5,356.7 L852.0,355.9 L852.5,374.4 L853.0,373.6 L853.5,372.8 L854.0,372.0 L854.5,356.0 L855.0,355.2 L855.5,368.4 L856.0,367.6 L856.5,341.5 L857.0,341.5 L857.5,341.5 L858.0,349.0 L858.5,349.0 L859.0,365.5 L859.5,365.4 L860.0,365.3 L860.5,365.2 L861.0,350.2 L861.5,350.2 L862.0,371.9 L862.5,371.7 L863.0,371.6 L863.5,371.4 L864.0,352.0 L864.5,352.0 L865.0,352.0 L865.5,351.8 L866.0,362.9 L866.5,362.4 L867.0,361.9 L867.5,361.4 L868.0,360.9 L868.5,360.5 L869.0,360.0 L869.5,342.5 L870.0,342.5 L870.5,342.5 L871.0,362.8 L871.5,362.8 L872.0,362.8 L872.5,354.8 L873.0,354.8 L873.5,361.3 L874.0,361.3 L874.5,361.3 L875.0,361.3 L875.5,361.3 L876.0,361.3 L876.5,361.3 L877.0,361.3 L877.5,348.9 L878.0,348.1 L878.5,347.4 L879.0,346.6 L879.5,357.7 L880.0,357.1 L880.5,356.5 L881.0,355.9 L881.5,355.2 L882.0,339.2 L882.5,338.3 L883.0,337.5 L883.5,354.6 L884.0,354.0 L884.5,353.4 L885.0,352.8 L885.5,352.6 L886.0,338.0 L886.5,338.0 L887.0,348.2 L887.5,348.1 L888.0,348.0 L888.5,347.9 L889.0,347.8 L889.5,342.7 L890.0,342.6 L890.5,351.6 L891.0,351.4 L891.5,351.3 L892.0,351.1 L892.5,350.9 L893.0,350.7 L893.5,350.0 L894.0,349.3 L894.5,333.6 L895.0,333.1 L895.5,332.6 L896.0,332.1 L896.5,345.2 L897.0,344.5 L897.5,343.8 L898.0,343.0 L898.5,343.3 L899.0,343.6 L899.5,343.8 L900.0,344.1 L900.5,332.2 L901.0,332.5 L901.5,332.8 L902.0,346.5 L902.5,346.8 L903.0,347.0 L903.5,347.3 L904.0,347.5 L904.5,335.3 L905.0,335.6 L905.5,335.2 L906.0,334.9 L906.5,344.7 L907.0,344.5 L907.5,344.2 L908.0,344.0 L908.5,343.7 L909.0,343.5 L909.5,332.5 L910.0,332.1 L910.5,340.2 L911.0,340.1 L911.5,340.0 L912.0,340.0 L912.5,339.9 L913.0,334.1 L913.5,334.0 L914.0,334.0 L914.5,341.6 L915.0,341.5 L915.5,341.4 L916.0,341.4 L916.5,341.3 L917.0,341.2 L917.5,329.1 L918.0,329.0 L918.5,328.9 L919.0,342.1 L919.5,342.1 L920.0,342.0 L920.5,341.9 L921.0,341.9 L921.5,329.1 L922.0,329.0 L922.5,328.9 L923.0,339.8 L923.5,339.8 L924.0,339.7 L924.5,339.6 L925.0,326.5 L925.5,326.4 L926.0,342.7 L926.5,342.7 L927.0,342.6 L927.5,314.5 L928.0,314.5 L928.5,314.5 L929.0,331.8 L929.5,342.2 L930.0,342.0 L930.5,341.7 L931.0,341.5 L931.5,341.3 L932.0,341.1 L932.5,340.9 L933.0,333.1 L933.5,333.0 L934.0,332.9 L934.5,336.1 L935.0,335.9 L935.5,335.3 L936.0,334.7 L936.5,334.2 L937.0,333.6 L937.5,333.0 L938.0,326.7 L938.5,326.1 L939.0,325.6 L939.5,325.0 L940.0,332.6 L940.5,332.0 L941.0,331.4 L941.5,330.7 L942.0,330.1 L942.5,319.5 L943.0,319.0 L943.5,318.4 L944.0,324.4 L944.5,323.8 L945.0,323.2 L945.5,323.0 L946.0,322.8 L946.5,320.9 L947.0,320.7 L947.5,320.5 L948.0,323.3 L948.5,323.1 L949.0,322.9 L949.5,322.6 L950.0,322.4 L950.5,322.2 L951.0,322.0 L951.5,321.8 L952.0,314.0 L952.5,313.8 L953.0,322.9 L953.5,322.7 L954.0,322.5 L954.5,322.3 L955.0,311.9 L955.5,311.9 L956.0,311.9 L956.5,320.6 L957.0,320.7 L957.5,320.8 L958.0,320.8 L958.5,320.9 L959.0,321.0 L959.5,314.6 L960.0,314.6 L960.5,320.7 L961.0,320.8 L961.5,320.9 L962.0,320.9 L962.5,321.0 L963.0,321.1 L963.5,321.1 L964.0,321.2 L964.5,311.0 L965.0,311.0 L965.5,310.5 L966.0,322.7 L966.5,322.3 L967.0,321.9 L967.5,321.5 L968.0,321.1 L968.5,311.2 L969.0,310.8 L969.5,310.4 L970.0,309.9 L970.5,319.9 L971.0,319.5 L971.5,319.1 L972.0,318.7 L972.5,318.8 L973.0,307.9 L973.5,307.8 L974.0,318.9 L974.5,318.9 L975.0,318.9 L975.5,319.0 L976.0,319.0 L976.5,319.0 L977.0,304.2 L977.5,304.1 L978.0,319.8 L978.5,319.8 L979.0,319.9 L979.5,319.9 L980.0,319.9 L980.5,320.0 L981.0,320.0 L981.5,304.6 L982.0,304.5 L982.5,303.6 L983.0,317.9 L983.5,317.0 L984.0,316.2 L984.5,315.4 L985.0,304.2 L985.5,303.3 L986.0,302.4 L986.5,313.2 L987.0,312.3 L987.5,311.5 L988.0,310.7 L988.5,310.4 L989.0,294.0 L989.5,293.9 L990.0,293.8 L990.5,304.9 L991.0,304.7 L991.5,304.4 L992.0,304.2 L992.5,291.5 L993.0,291.4 L993.5,305.6 L994.0,305.6 L994.5,305.5 L995.0,305.5 L995.5,305.4 L996.0,305.3 L996.5,293.1 L997.0,293.0 L997.5,292.9 L998.0,301.0 L998.5,300.9 L999.0,300.8 L999.5,300.8 L1000.0,290.4 L1000.5,290.3 L1001.0,290.2 L1001.5,302.2 L1002.0,302.1 L1002.5,302.0 L1003.0,302.0 L1003.5,301.4 L1004.0,300.7 L1004.5,289.9 L1005.0,289.5 L1005.5,289.0 L1006.0,299.4 L1006.5,298.8 L1007.0,298.2 L1007.5,297.5 L1008.0,288.0 L1008.5,287.5 L1009.0,287.1 L1009.5,286.6 L1010.0,293.6 L1010.5,293.0 L1011.0,292.4 L1011.5,291.8 L1012.0,291.2 L1012.5,291.2 L1013.0,291.3 L1013.5,291.3 L1014.0,283.2 L1014.5,283.2 L1015.0,283.2 L1015.5,283.2 L1016.0,290.0 L1016.5,290.0 L1017.0,290.0 L1017.5,290.1 L1018.0,290.1 L1018.5,290.2 L1019.0,290.2 L1019.5,280.9 L1020.0,280.9 L1020.5,280.9 L1021.0,290.2 L1021.5,290.2 L1022.0,290.3 L1022.5,290.3 L1023.0,290.4 L1023.5,284.5 L1024.0,284.5 L1024.5,274.5 L1025.0,274.5 L1025.5,274.5 L1026.0,294.9 L1026.5,294.5 L1027.0,294.1 L1027.5,293.7 L1028.0,293.3 L1028.5,287.9 L1029.0,287.7 L1029.5,287.4 L1030.0,287.2 L1030.5,291.1 L1031.0,290.8 L1031.5,290.5 L1032.0,280.7 L1032.5,280.2 L1033.0,287.1 L1033.5,286.7 L1034.0,286.3 L1034.5,288.0 L1035.0,289.8 L1035.5,291.5 L1036.0,293.2 L1036.5,285.3 L1037.0,286.6 L1037.5,286.5 L1038.0,296.7 L1038.5,296.6 L1039.0,296.5 L1039.5,296.5 L1040.0,296.4 L1040.5,284.3 L1041.0,284.2 L1041.5,284.1 L1042.0,296.7 L1042.5,296.7 L1043.0,296.6 L1043.5,297.1 L1044.0,297.6 L1044.5,288.5 L1045.0,289.2 L1045.5,299.3 L1046.0,299.7 L1046.5,300.2 L1047.0,300.7 L1047.5,300.3 L1048.0,295.9 L1048.5,295.5 L1049.0,302.0 L1049.5,301.6 L1050.0,301.2 L1050.5,300.9 L1051.0,289.7 L1051.5,289.3 L1052.0,289.0 L1052.5,297.2 L1053.0,296.9 L1053.5,296.5 L1054.0,296.2 L1054.5,272.5 L1055.0,272.5 L1055.5,272.5 L1056.0,284.3 L1056.5,284.3 L1057.0,284.3 L1057.5,295.8 L1058.0,295.5 L1058.5,295.3 L1059.0,295.1 L1059.5,294.9 L1060.0,286.0 L1060.5,286.0 L1061.0,285.9 L1061.5,290.9 L1062.0,290.8 L1062.5,289.5 L1063.0,288.3 L1063.5,287.1 L1064.0,285.8 L1064.5,277.0 L1065.0,275.4 L1065.5,273.8 L1066.0,287.0 L1066.5,287.0 L1067.0,287.0 L1067.5,287.0 L1068.0,271.8 L1068.5,271.8 L1069.0,280.7 L1069.5,280.7 L1070.0,280.7 L1070.5,266.5 L1071.0,266.5 L1071.5,266.5 L1072.0,281.6 L1072.5,282.7 L1073.0,286.0 L1073.5,287.0 L1074.0,288.0 L1074.5,289.1 L1075.0,290.1 L1075.5,291.1 L1076.0,283.4 L1076.5,284.7 L1077.0,286.0 L1077.5,293.5 L1078.0,292.5 L1078.5,291.5 L1079.0,290.5 L1079.5,289.5 L1080.0,288.5 L1080.5,287.5 L1081.0,286.5 L1081.5,281.6 L1082.0,280.5 L1082.5,280.3 L1083.0,284.1 L1083.5,283.9 L1084.0,283.6 L1084.5,283.4 L1085.0,283.2 L1085.5,276.1 L1086.0,276.0 L1086.5,283.0 L1087.0,282.8 L1087.5,282.5 L1088.0,282.3 L1088.5,282.0 L1089.0,281.8 L1089.5,281.2 L1090.0,280.6 L1090.5,277.1 L1091.0,276.4 L1091.5,275.8 L1092.0,275.1 L1092.5,278.1 L1093.0,277.5 L1093.5,276.9 L1094.0,276.3 L1094.5,275.7 L1095.0,275.1 L1095.5,274.6 L1096.0,274.0 L1096.5,262.9 L1097.0,262.2 L1097.5,262.4 L1098.0,270.4 L1098.5,270.6 L1099.0,270.8 L1099.5,271.0 L1100.0,271.1 L1100.5,271.3 L1101.0,271.5 L1101.5,271.7 L1102.0,266.9 L1102.5,267.1 L1103.0,275.9 L1103.5,276.0 L1104.0,276.2 L1104.5,276.3 L1105.0,267.0 L1105.5,266.5 L1106.0,272.7 L1106.5,272.4 L1107.0,272.0 L1107.5,271.6 L1108.0,271.3 L1108.5,269.0 L1109.0,268.6 L1109.5,268.2 L1110.0,270.0 L1110.5,269.7 L1111.0,269.3 L1111.5,268.9 L1112.0,268.6 L1112.5,268.2 L1113.0,258.0 L1113.5,258.2 L1114.0,258.3 L1114.5,269.5 L1115.0,269.7 L1115.5,269.9 L1116.0,261.7 L1116.5,261.9 L1117.0,269.1 L1117.5,269.3 L1118.0,269.4 L1118.5,269.6 L1119.0,269.8 L1119.5,270.8 L1120.0,271.7 L1120.5,272.7 L1121.0,265.9 L1121.5,267.4 L1122.0,268.8 L1122.5,279.1 L1123.0,279.9 L1123.5,280.6 L1124.0,281.3 L1124.5,282.5 L1125.0,278.8 L1125.5,280.5 L1126.0,282.2 L1126.0,288.3 L1125.5,287.3 L1125.0,286.3 L1124.5,285.3 L1124.0,284.4 L1123.5,286.5 L1123.0,286.4 L1122.5,286.3 L1122.0,280.8 L1121.5,280.2 L1121.0,279.7 L1120.5,279.1 L1120.0,278.6 L1119.5,278.0 L1119.0,287.8 L1118.5,287.6 L1118.0,280.3 L1117.5,280.1 L1117.0,279.8 L1116.5,279.6 L1116.0,279.4 L1115.5,279.2 L1115.0,279.0 L1114.5,292.0 L1114.0,291.8 L1113.5,275.3 L1113.0,275.0 L1112.5,275.3 L1112.0,275.6 L1111.5,275.8 L1111.0,276.1 L1110.5,276.4 L1110.0,287.9 L1109.5,288.0 L1109.0,288.1 L1108.5,277.5 L1108.0,277.8 L1107.5,278.1 L1107.0,278.3 L1106.5,278.6 L1106.0,278.8 L1105.5,290.5 L1105.0,290.6 L1104.5,290.6 L1104.0,290.6 L1103.5,283.2 L1103.0,283.1 L1102.5,283.0 L1102.0,282.9 L1101.5,282.9 L1101.0,287.8 L1100.5,287.8 L1100.0,281.4 L1099.5,281.3 L1099.0,281.2 L1098.5,281.2 L1098.0,281.1 L1097.5,281.0 L1097.0,291.4 L1096.5,291.7 L1096.0,292.0 L1095.5,292.3 L1095.0,283.9 L1094.5,284.3 L1094.0,284.8 L1093.5,285.2 L1093.0,285.7 L1092.5,286.1 L1092.0,295.0 L1091.5,295.3 L1091.0,295.6 L1090.5,284.2 L1090.0,284.8 L1089.5,285.3 L1089.0,285.8 L1088.5,286.1 L1088.0,295.7 L1087.5,296.2 L1087.0,296.7 L1086.5,287.9 L1086.0,288.3 L1085.5,288.6 L1085.0,289.0 L1084.5,289.3 L1084.0,289.7 L1083.5,302.0 L1083.0,302.6 L1082.5,294.5 L1082.0,295.0 L1081.5,295.7 L1081.0,296.5 L1080.5,305.0 L1080.0,305.6 L1079.5,306.2 L1079.0,299.1 L1078.5,299.9 L1078.0,300.7 L1077.5,301.5 L1077.0,302.3 L1076.5,301.6 L1076.0,309.3 L1075.5,308.8 L1075.0,308.3 L1074.5,298.4 L1074.0,297.7 L1073.5,296.9 L1073.0,296.2 L1072.5,295.4 L1072.0,298.7 L1071.5,298.1 L1071.0,297.4 L1070.5,297.4 L1070.0,293.2 L1069.5,293.2 L1069.0,293.2 L1068.5,293.2 L1068.0,293.2 L1067.5,293.2 L1067.0,293.2 L1066.5,302.5 L1066.0,302.5 L1065.5,302.9 L1065.0,303.2 L1064.5,293.1 L1064.0,294.0 L1063.5,294.8 L1063.0,295.6 L1062.5,296.4 L1062.0,304.7 L1061.5,305.2 L1061.0,305.6 L1060.5,306.1 L1060.0,297.7 L1059.5,298.0 L1059.0,298.3 L1058.5,298.5 L1058.0,298.8 L1057.5,299.1 L1057.0,299.4 L1056.5,309.5 L1056.0,309.9 L1055.5,301.5 L1055.0,301.8 L1054.5,302.2 L1054.0,308.1 L1053.5,308.6 L1053.0,301.4 L1052.5,301.7 L1052.0,302.1 L1051.5,302.5 L1051.0,302.9 L1050.5,303.3 L1050.0,303.6 L1049.5,318.8 L1049.0,319.2 L1048.5,305.8 L1048.0,306.1 L1047.5,325.5 L1047.0,325.5 L1046.5,325.5 L1046.0,306.2 L1045.5,305.9 L1045.0,319.5 L1044.5,319.5 L1044.0,319.5 L1043.5,309.9 L1043.0,309.7 L1042.5,309.7 L1042.0,309.7 L1041.5,309.7 L1041.0,309.8 L1040.5,311.5 L1040.0,311.5 L1039.5,311.6 L1039.0,311.6 L1038.5,306.3 L1038.0,306.3 L1037.5,331.5 L1037.0,331.5 L1036.5,331.5 L1036.0,302.6 L1035.5,300.4 L1035.0,298.2 L1034.5,303.4 L1034.0,300.7 L1033.5,292.6 L1033.0,292.9 L1032.5,293.2 L1032.0,302.4 L1031.5,302.6 L1031.0,302.7 L1030.5,302.9 L1030.0,295.3 L1029.5,295.8 L1029.0,296.3 L1028.5,296.9 L1028.0,297.4 L1027.5,298.0 L1027.0,310.2 L1026.5,311.1 L1026.0,301.0 L1025.5,301.6 L1025.0,302.2 L1024.5,302.1 L1024.0,313.9 L1023.5,313.7 L1023.0,313.6 L1022.5,301.8 L1022.0,301.7 L1021.5,301.6 L1021.0,301.5 L1020.5,311.6 L1020.0,311.4 L1019.5,300.4 L1019.0,300.3 L1018.5,300.2 L1018.0,300.1 L1017.5,300.0 L1017.0,310.0 L1016.5,309.8 L1016.0,309.7 L1015.5,309.6 L1015.0,298.8 L1014.5,298.7 L1014.0,298.6 L1013.5,298.5 L1013.0,298.4 L1012.5,310.0 L1012.0,309.8 L1011.5,310.8 L1011.0,311.7 L1010.5,301.7 L1010.0,302.5 L1009.5,303.3 L1009.0,304.0 L1008.5,304.8 L1008.0,312.3 L1007.5,313.2 L1007.0,314.1 L1006.5,309.3 L1006.0,310.1 L1005.5,310.9 L1005.0,311.7 L1004.5,312.5 L1004.0,313.3 L1003.5,314.1 L1003.0,326.3 L1002.5,326.3 L1002.0,326.3 L1001.5,311.7 L1001.0,311.7 L1000.5,311.8 L1000.0,311.8 L999.5,311.9 L999.0,327.3 L998.5,327.3 L998.0,327.3 L997.5,327.3 L997.0,315.6 L996.5,315.7 L996.0,315.7 L995.5,315.7 L995.0,315.8 L994.5,318.9 L994.0,318.9 L993.5,318.9 L993.0,319.0 L992.5,313.6 L992.0,313.9 L991.5,314.3 L991.0,314.6 L990.5,328.6 L990.0,329.1 L989.5,317.4 L989.0,317.7 L988.5,318.1 L988.0,318.4 L987.5,319.3 L987.0,320.1 L986.5,330.9 L986.0,331.7 L985.5,321.2 L985.0,322.0 L984.5,322.8 L984.0,323.6 L983.5,324.4 L983.0,325.2 L982.5,337.5 L982.0,338.2 L981.5,329.2 L981.0,329.1 L980.5,329.0 L980.0,328.9 L979.5,328.7 L979.0,328.6 L978.5,328.5 L978.0,339.0 L977.5,338.8 L977.0,327.7 L976.5,327.6 L976.0,327.5 L975.5,327.4 L975.0,327.3 L974.5,327.2 L974.0,331.0 L973.5,330.9 L973.0,330.7 L972.5,322.5 L972.0,322.4 L971.5,322.8 L971.0,323.2 L970.5,323.6 L970.0,324.0 L969.5,324.4 L969.0,336.1 L968.5,336.5 L968.0,327.6 L967.5,328.0 L967.0,328.3 L966.5,328.7 L966.0,329.1 L965.5,329.5 L965.0,329.9 L964.5,329.8 L964.0,339.2 L963.5,339.0 L963.0,338.8 L962.5,338.7 L962.0,329.1 L961.5,329.0 L961.0,328.8 L960.5,328.7 L960.0,328.6 L959.5,328.5 L959.0,328.3 L958.5,336.3 L958.0,336.2 L957.5,336.0 L957.0,326.0 L956.5,325.9 L956.0,325.8 L955.5,325.7 L955.0,331.1 L954.5,331.4 L954.0,331.6 L953.5,331.9 L953.0,329.5 L952.5,329.8 L952.0,330.0 L951.5,336.3 L951.0,336.5 L950.5,336.7 L950.0,330.5 L949.5,330.7 L949.0,330.9 L948.5,331.2 L948.0,331.4 L947.5,331.6 L947.0,331.9 L946.5,342.3 L946.0,342.5 L945.5,342.8 L945.0,343.0 L944.5,330.5 L944.0,331.1 L943.5,331.8 L943.0,332.4 L942.5,346.4 L942.0,347.1 L941.5,335.4 L941.0,336.0 L940.5,336.7 L940.0,346.9 L939.5,347.6 L939.0,348.3 L938.5,341.2 L938.0,341.9 L937.5,342.5 L937.0,343.2 L936.5,343.8 L936.0,344.5 L935.5,345.1 L935.0,354.9 L934.5,355.4 L934.0,343.0 L933.5,343.2 L933.0,343.5 L932.5,343.8 L932.0,344.0 L931.5,344.3 L931.0,358.1 L930.5,358.6 L930.0,347.4 L929.5,347.7 L929.0,348.0 L928.5,374.5 L928.0,374.5 L927.5,374.5 L927.0,364.2 L926.5,364.2 L926.0,364.2 L925.5,350.0 L925.0,350.1 L924.5,350.1 L924.0,350.2 L923.5,361.7 L923.0,361.7 L922.5,353.1 L922.0,353.1 L921.5,353.1 L921.0,353.2 L920.5,353.2 L920.0,362.8 L919.5,362.8 L919.0,362.8 L918.5,362.8 L918.0,352.8 L917.5,352.8 L917.0,352.9 L916.5,358.2 L916.0,358.2 L915.5,358.2 L915.0,353.7 L914.5,353.7 L914.0,353.7 L913.5,353.8 L913.0,353.8 L912.5,355.7 L912.0,355.7 L911.5,355.7 L911.0,355.8 L910.5,353.2 L910.0,353.3 L909.5,353.4 L909.0,353.5 L908.5,353.6 L908.0,353.8 L907.5,353.9 L907.0,359.4 L906.5,359.4 L906.0,359.5 L905.5,371.5 L905.0,371.5 L904.5,371.5 L904.0,353.7 L903.5,353.5 L903.0,353.2 L902.5,360.6 L902.0,360.4 L901.5,352.8 L901.0,352.6 L900.5,352.4 L900.0,352.1 L899.5,358.7 L899.0,358.5 L898.5,350.0 L898.0,349.8 L897.5,350.6 L897.0,351.4 L896.5,352.3 L896.0,353.1 L895.5,353.9 L895.0,354.7 L894.5,361.6 L894.0,362.5 L893.5,363.4 L893.0,358.7 L892.5,359.0 L892.0,359.3 L891.5,359.6 L891.0,359.9 L890.5,360.2 L890.0,360.5 L889.5,370.4 L889.0,370.8 L888.5,371.3 L888.0,371.7 L887.5,359.2 L887.0,359.4 L886.5,359.7 L886.0,360.0 L885.5,360.2 L885.0,360.5 L884.5,361.0 L884.0,379.1 L883.5,379.4 L883.0,362.7 L882.5,363.2 L882.0,363.7 L881.5,364.2 L881.0,381.3 L880.5,381.6 L880.0,381.9 L879.5,368.5 L879.0,369.0 L878.5,369.5 L878.0,370.0 L877.5,370.5 L877.0,371.0 L876.5,371.0 L876.0,381.6 L875.5,381.6 L875.0,381.6 L874.5,381.6 L874.0,369.5 L873.5,369.5 L873.0,369.5 L872.5,369.5 L872.0,369.5 L871.5,382.8 L871.0,382.8 L870.5,382.8 L870.0,382.8 L869.5,367.3 L869.0,368.0 L868.5,368.7 L868.0,369.5 L867.5,384.7 L867.0,385.9 L866.5,379.1 L866.0,380.1 L865.5,381.0 L865.0,381.9 L864.5,397.6 L864.0,397.9 L863.5,398.2 L863.0,383.2 L862.5,383.4 L862.0,383.6 L861.5,383.9 L861.0,384.1 L860.5,396.4 L860.0,396.7 L859.5,376.4 L859.0,376.6 L858.5,376.7 L858.0,376.9 L857.5,389.6 L857.0,389.9 L856.5,381.9 L856.0,382.7 L855.5,383.5 L855.0,403.5 L854.5,404.3 L854.0,405.1 L853.5,387.2 L853.0,388.0 L852.5,388.8 L852.0,389.6 L851.5,390.4 L851.0,408.6 L850.5,409.1 L850.0,409.7 L849.5,395.7 L849.0,396.2 L848.5,396.7 L848.0,415.3 L847.5,415.9 L847.0,416.5 L846.5,399.8 L846.0,400.2 L845.5,425.5 L845.0,425.5 L844.5,425.5 L844.0,409.7 L843.5,409.9 L843.0,400.8 L842.5,401.2 L842.0,401.7 L841.5,402.1 L841.0,419.0 L840.5,419.0 L840.0,419.0 L839.5,420.3 L839.0,406.5 L838.5,407.1 L838.0,407.6 L837.5,408.1 L837.0,408.6 L836.5,409.1 L836.0,409.6 L835.5,424.8 L835.0,425.9 L834.5,399.5 L834.0,399.5 L833.5,399.6 L833.0,399.7 L832.5,399.8 L832.0,399.8 L831.5,399.9 L831.0,400.0 L830.5,428.2 L830.0,428.1 L829.5,422.7 L829.0,417.3 L828.5,388.8 L828.0,385.4 L827.5,382.1 L827.0,378.8 L826.5,375.4 L826.0,372.1 L825.5,368.8 L825.0,365.4 L824.5,374.2 L824.0,375.3 L823.5,376.3 L823.0,377.4 L822.5,373.2 L822.0,374.1 L821.5,375.0 L821.0,376.0 L820.5,376.9 L820.0,377.8 L819.5,378.7 L819.0,386.6 L818.5,387.7 L818.0,380.7 L817.5,381.6 L817.0,382.5 L816.5,383.4 L816.0,384.3 L815.5,385.2 L815.0,386.1 L814.5,386.4 L814.0,389.5 L813.5,389.7 L813.0,390.0 L812.5,390.2 L812.0,389.2 L811.5,389.4 L811.0,389.7 L810.5,390.0 L810.0,390.2 L809.5,390.5 L809.0,394.5 L808.5,394.5 L808.0,394.6 L807.5,395.2 L807.0,388.9 L806.5,389.4 L806.0,389.9 L805.5,389.9 L805.0,398.3 L804.5,398.9 L804.0,399.4 L803.5,395.4 L803.0,395.9 L802.5,396.4 L802.0,402.4 L801.5,403.0 L801.0,403.5 L800.5,397.1 L800.0,397.6 L799.5,398.1 L799.0,398.6 L798.5,405.9 L798.0,406.4 L797.5,401.9 L797.0,402.5 L796.5,403.0 L796.0,403.5 L795.5,404.0 L795.0,404.5 L794.5,405.1 L794.0,405.6 L793.5,408.6 L793.0,409.1 L792.5,406.4 L792.0,406.9 L791.5,407.5 L791.0,408.0 L790.5,408.5 L790.0,412.8 L789.5,413.3 L789.0,413.7 L788.5,414.1 L788.0,410.9 L787.5,411.3 L787.0,411.7 L786.5,412.0 L786.0,412.4 L785.5,412.8 L785.0,414.7 L784.5,415.1 L784.0,415.5 L783.5,412.1 L783.0,412.4 L782.5,412.8 L782.0,413.1 L781.5,419.1 L781.0,419.5 L780.5,414.2 L780.0,414.6 L779.5,414.8 L779.0,414.9 L778.5,415.1 L778.0,415.3 L777.5,415.4 L777.0,415.6 L776.5,423.7 L776.0,423.7 L775.5,423.8 L775.0,423.8 L774.5,415.7 L774.0,415.9 L773.5,416.1 L773.0,416.3 L772.5,424.7 L772.0,424.7 L771.5,424.7 L771.0,417.2 L770.5,417.4 L770.0,417.6 L769.5,418.4 L769.0,419.2 L768.5,420.0 L768.0,426.0 L767.5,426.9 L767.0,427.7 L766.5,423.5 L766.0,424.3 L765.5,425.1 L765.0,425.9 L764.5,434.7 L764.0,435.6 L763.5,436.5 L763.0,429.3 L762.5,430.1 L762.0,430.9 L761.5,431.7 L761.0,432.5 L760.5,433.3 L760.0,440.2 L759.5,440.5 L759.0,440.8 L758.5,436.3 L758.0,436.7 L757.5,437.0 L757.0,437.3 L756.5,437.6 L756.0,437.9 L755.5,445.2 L755.0,445.5 L754.5,445.8 L754.0,446.1 L753.5,440.7 L753.0,441.0 L752.5,441.3 L752.0,441.6 L751.5,441.9 L751.0,447.0 L750.5,447.3 L750.0,442.5 L749.5,443.1 L749.0,443.8 L748.5,444.5 L748.0,445.2 L747.5,445.8 L747.0,446.5 L746.5,453.5 L746.0,454.4 L745.5,455.2 L745.0,450.0 L744.5,450.7 L744.0,451.4 L743.5,452.1 L743.0,452.8 L742.5,453.5 L742.0,454.2 L741.5,464.3 L741.0,465.2 L740.5,454.7 L740.0,455.4 L739.5,455.5 L739.0,455.7 L738.5,455.9 L738.0,456.0 L737.5,456.2 L737.0,456.4 L736.5,466.3 L736.0,466.3 L735.5,466.3 L735.0,456.2 L734.5,456.3 L734.0,456.5 L733.5,456.7 L733.0,456.9 L732.5,457.1 L732.0,457.3 L731.5,464.6 L731.0,464.7 L730.5,464.7 L730.0,464.7 L729.5,456.9 L729.0,457.3 L728.5,457.8 L728.0,469.6 L727.5,470.3 L727.0,471.1 L726.5,464.1 L726.0,464.6 L725.5,465.2 L725.0,465.7 L724.5,466.3 L724.0,466.9 L723.5,467.4 L723.0,468.0 L722.5,475.9 L722.0,476.6 L721.5,476.8 L721.0,463.8 L720.5,464.2 L720.0,464.6 L719.5,465.0 L719.0,465.4 L718.5,465.8 L718.0,477.6 L717.5,477.9 L717.0,468.1 L716.5,468.5 L716.0,468.8 L715.5,474.6 L715.0,474.9 L714.5,475.2 L714.0,473.7 L713.5,474.1 L713.0,474.6 L712.5,475.1 L712.0,475.5 L711.5,482.5 L711.0,482.8 L710.5,483.2 L710.0,475.3 L709.5,475.8 L709.0,476.3 L708.5,476.8 L708.0,484.0 L707.5,484.4 L707.0,479.3 L706.5,479.8 L706.0,480.3 L705.5,480.8 L705.0,481.3 L704.5,481.4 L704.0,481.6 L703.5,489.6 L703.0,489.9 L702.5,490.2 L702.0,479.7 L701.5,479.8 L701.0,480.0 L700.5,480.1 L700.0,480.2 L699.5,480.4 L699.0,480.5 L698.5,480.7 L698.0,488.6 L697.5,488.9 L697.0,489.1 L696.5,485.6 L696.0,486.0 L695.5,486.5 L695.0,486.9 L694.5,487.3 L694.0,487.7 L693.5,488.2 L693.0,488.6 L692.5,495.4 L692.0,495.8 L691.5,496.1 L691.0,496.4 L690.5,488.3 L690.0,488.8 L689.5,489.2 L689.0,497.7 L688.5,498.0 L688.0,490.5 L687.5,491.0 L687.0,491.5 L686.5,491.9 L686.0,492.4 L685.5,493.3 L685.0,494.1 L684.5,501.7 L684.0,502.7 L683.5,497.0 L683.0,497.9 L682.5,498.8 L682.0,508.8 L681.5,509.9 L681.0,510.9 L680.5,501.9 L680.0,502.8 L679.5,503.2 L679.0,503.5 L678.5,503.9 L678.0,513.0 L677.5,513.4 L677.0,513.8 L676.5,504.7 L676.0,505.1 L675.5,505.4 L675.0,505.8 L674.5,506.2 L674.0,506.5 L673.5,506.9 L673.0,507.3 L672.5,517.5 L672.0,517.9 L671.5,508.0 L671.0,508.4 L670.5,508.7 L670.0,509.1 L669.5,509.5 L669.0,509.8 L668.5,510.2 L668.0,522.0 L667.5,522.4 L667.0,522.7 L666.5,523.1 L666.0,511.4 L665.5,511.4 L665.0,511.5 L664.5,511.6 L664.0,511.6 L663.5,511.7 L663.0,511.8 L662.5,511.8 L662.0,524.2 L661.5,524.5 L661.0,512.9 L660.5,513.0 L660.0,513.0 L659.5,513.1 L659.0,513.2 L658.5,528.6 L658.0,528.9 L657.5,529.3 L657.0,516.5 L656.5,516.8 L656.0,517.1 L655.5,517.4 L655.0,517.7 L654.5,517.9 L654.0,518.2 L653.5,527.3 L653.0,527.3 L652.5,520.8 L652.0,521.1 L651.5,521.3 L651.0,521.5 L650.5,521.7 L650.0,527.6 L649.5,527.6 L649.0,527.6 L648.5,527.6 L648.0,523.1 L647.5,523.5 L647.0,524.0 L646.5,524.4 L646.0,524.9 L645.5,525.3 L645.0,525.7 L644.5,529.8 L644.0,530.2 L643.5,530.6 L643.0,525.1 L642.5,525.6 L642.0,526.0 L641.5,526.5 L641.0,526.9 L640.5,527.3 L640.0,527.8 L639.5,534.9 L639.0,535.5 L638.5,528.6 L638.0,529.1 L637.5,529.7 L637.0,530.2 L636.5,530.8 L636.0,540.7 L635.5,541.3 L635.0,536.2 L634.5,536.8 L634.0,537.4 L633.5,538.0 L633.0,538.6 L632.5,544.3 L632.0,545.0 L631.5,535.9 L631.0,536.4 L630.5,537.0 L630.0,537.5 L629.5,538.1 L629.0,538.6 L628.5,539.2 L628.0,552.1 L627.5,552.8 L627.0,541.2 L626.5,541.3 L626.0,541.4 L625.5,541.5 L625.0,541.6 L624.5,541.7 L624.0,541.8 L623.5,541.9 L623.0,548.8 L622.5,548.9 L622.0,542.9 L621.5,543.0 L621.0,543.1 L620.5,543.2 L620.0,543.3 L619.5,556.2 L619.0,556.4 L618.5,543.4 L618.0,543.5 L617.5,543.6 L617.0,543.7 L616.5,544.1 L616.0,544.4 L615.5,551.6 L615.0,551.9 L614.5,552.2 L614.0,547.0 L613.5,547.3 L613.0,547.7 L612.5,548.0 L612.0,559.4 L611.5,559.6 L611.0,559.9 L610.5,547.7 L610.0,548.1 L609.5,548.5 L609.0,548.8 L608.5,549.2 L608.0,549.6 L607.5,559.5 L607.0,559.8 L606.5,560.1 L606.0,551.2 L605.5,551.6 L605.0,552.0 L604.5,552.4 L604.0,552.8 L603.5,561.1 L603.0,561.4 L602.5,561.7 L602.0,562.0 L601.5,558.1 L601.0,558.5 L600.5,558.9 L600.0,559.2 L599.5,565.4 L599.0,565.6 L598.5,557.1 L598.0,557.5 L597.5,557.9 L597.0,558.3 L596.5,564.8 L596.0,565.1 L595.5,565.4 L595.0,560.9 L594.5,561.3 L594.0,561.8 L593.5,562.3 L593.0,562.7 L592.5,563.2 L592.0,563.7 L591.5,564.2 L591.0,572.8 L590.5,573.6 L590.0,574.4 L589.5,568.5 L589.0,569.0 L588.5,569.6 L588.0,570.1 L587.5,570.7 L587.0,580.5 L586.5,581.3 L586.0,568.7 L585.5,569.1 L585.0,569.6 L584.5,569.9 L584.0,583.6 L583.5,584.0 L583.0,584.4 L582.5,576.4 L582.0,576.7 L581.5,577.1 L581.0,577.4 L580.5,577.8 L580.0,578.2 L579.5,585.7 L579.0,586.1 L578.5,586.5 L578.0,575.7 L577.5,576.0 L577.0,576.3 L576.5,576.7 L576.0,577.0 L575.5,577.4 L575.0,589.2 L574.5,590.1 L574.0,591.0 L573.5,591.9 L573.0,578.7 L572.5,579.4 L572.0,580.2 L571.5,581.0 L571.0,581.7 L570.5,595.8 L570.0,596.7 L569.5,597.3 L569.0,587.6 L568.5,588.3 L568.0,589.1 L567.5,589.8 L567.0,590.6 L566.5,591.3 L566.0,592.1 L565.5,603.2 L565.0,603.8 L564.5,597.9 L564.0,598.6 L563.5,599.4 L563.0,600.1 L562.5,600.8 L562.0,601.5 L561.5,607.0 L561.0,607.7 L560.5,608.4 L560.0,600.0 L559.5,600.1 L559.0,600.2 L558.5,600.2 L558.0,600.3 L557.5,600.4 L557.0,610.8 L556.5,610.8 L556.0,610.8 L555.5,610.8 L555.0,599.9 L554.5,600.0 L554.0,600.1 L553.5,613.7 L553.0,613.7 L552.5,613.7 L552.0,599.8 L551.5,599.9 L551.0,599.9 L550.5,600.0 L550.0,606.1 L549.5,606.0 L549.0,606.0 L548.5,605.9 L548.0,603.3 L547.5,603.3 L547.0,603.3 L546.5,603.3 L546.0,603.3 L545.5,603.3 L545.0,609.1 L544.5,609.7 L544.0,610.3 L543.5,603.5 L543.0,603.8 L542.5,604.1 L542.0,604.4 L541.5,611.8 L541.0,612.3 L540.5,603.4 L540.0,603.7 L539.5,603.9 L539.0,604.2 L538.5,604.4 L538.0,604.7 L537.5,605.0 L537.0,617.4 L536.5,617.9 L536.0,610.1 L535.5,610.4 L535.0,610.8 L534.5,612.3 L534.0,613.7 L533.5,625.1 L533.0,626.5 L532.5,628.0 L532.0,615.4 L531.5,616.9 L531.0,618.4 L530.5,619.9 L530.0,621.3 L529.5,636.9 L529.0,638.3 L528.5,627.3 L528.0,628.8 L527.5,629.2 L527.0,629.6 L526.5,630.0 L526.0,630.4 L525.5,630.8 L525.0,644.4 L524.5,644.7 L524.0,644.9 L523.5,645.2 L523.0,631.1 L522.5,631.5 L522.0,631.9 L521.5,632.3 L521.0,632.7 L520.5,633.2 L520.0,645.8 L519.5,646.1 L519.0,646.5 L518.5,637.7 L518.0,638.1 L517.5,638.5 L517.0,638.9 L516.5,639.4 L516.0,639.8 L515.5,651.3 L515.0,651.6 L514.5,651.9 L514.0,641.7 L513.5,642.1 L513.0,642.5 L512.5,649.8 L512.0,650.2 L511.5,650.5 L511.0,650.9 L510.5,643.1 L510.0,643.5 L509.5,643.8 L509.0,651.5 L508.5,651.9 L508.0,652.3 L507.5,645.1 L507.0,645.3 L506.5,645.6 L506.0,645.9 L505.5,646.2 L505.0,654.2 L504.5,654.5 L504.0,654.9 L503.5,655.3 L503.0,646.7 L502.5,647.0 L502.0,647.3 L501.5,659.1 L501.0,659.5 L500.5,659.9 L500.0,648.3 L499.5,648.5 L499.0,648.8 L498.5,649.0 L498.0,649.3 L497.5,649.5 L497.0,649.8 L496.5,665.2 L496.0,665.6 L495.5,666.0 L495.0,651.6 L494.5,651.9 L494.0,652.1 L493.5,652.4 L493.0,670.1 L492.5,670.5 L492.0,670.9 L491.5,651.6 L491.0,651.8 L490.5,652.1 L490.0,652.3 L489.5,652.9 L489.0,653.4 L488.5,653.9 L488.0,664.8 L487.5,665.4 L487.0,657.2 L486.5,657.7 L486.0,658.2 L485.5,658.7 L485.0,659.3 L484.5,659.8 L484.0,676.5 L483.5,685.5 L483.0,685.5 L482.5,685.5 L482.0,663.6 L481.5,664.1 L481.0,664.5 L480.5,665.0 L480.0,665.4 L479.5,675.9 L479.0,676.0 L478.5,676.2 L478.0,670.4 L477.5,670.7 L477.0,671.1 L476.5,671.4 L476.0,671.8 L475.5,672.1 L475.0,679.5 L474.5,681.1 L474.0,674.4 L473.5,675.6 L473.0,676.7 L472.5,677.9 L472.0,679.0 L471.5,680.2 L471.0,681.3 L470.5,694.4 L470.0,696.0 L469.5,697.6 L469.0,681.8 L468.5,682.8 L468.0,683.8 L467.5,684.8 L467.0,685.8 L466.5,685.7 L466.0,685.6 L465.5,700.0 L465.0,699.7 L464.5,699.5 L464.0,688.5 L463.5,688.4 L463.0,688.2 L462.5,688.1 L462.0,687.9 L461.5,687.8 L461.0,696.6 L460.5,696.4 L460.0,696.1 L459.5,683.3 L459.0,685.7 L458.5,688.0 L458.0,690.4 L457.5,692.7 L457.0,695.1 L456.5,697.4 L456.0,724.6 L455.5,724.4 L455.0,710.4 L454.5,710.3 L454.0,710.3 L453.5,710.2 L453.0,710.1 L452.5,710.0 L452.0,709.9 L451.5,723.9 L451.0,723.6 L450.5,723.3 L450.0,703.2 L449.5,703.7 L449.0,704.2 L448.5,704.7 L448.0,705.2 L447.5,705.7 L447.0,727.2 L446.5,727.9 L446.0,728.6 L445.5,713.7 L445.0,714.6 L444.5,715.5 L444.0,716.3 L443.5,717.2 L443.0,718.1 L442.5,719.0 L442.0,731.4 L441.5,731.5 L441.0,716.5 L440.5,716.6 L440.0,716.7 L439.5,716.8 L439.0,716.9 L438.5,727.9 L438.0,728.0 L437.5,728.1 L437.0,728.2 L436.5,719.7 L436.0,719.8 L435.5,719.9 L435.0,720.0 L434.5,720.0 L434.0,731.7 L433.5,754.5 L433.0,754.5 L432.5,754.5 L432.0,715.2 L431.5,715.2 L431.0,715.2 L430.5,715.2 L430.0,715.1 L429.5,736.7 L429.0,736.7 L428.5,736.8 L428.0,718.9 L427.5,718.9 L427.0,718.9 L426.5,718.9 L426.0,737.8 L425.5,786.5 L425.0,786.5 L424.5,786.5 L424.0,722.7 L423.5,722.7 L423.0,722.7 L422.5,722.4 L422.0,722.2 L421.5,736.4 L421.0,765.5 L420.5,765.5 L420.0,765.5 L419.5,719.6 L419.0,719.4 L418.5,713.1 L418.0,706.9 L417.5,708.8 L417.0,700.2Z" stroke-width="3" stroke-linejoin="round"/>
<path d="M266.0,1046.5 L267.8,1039.9 L270.6,1039.9 L270.6,1030.9 L274.4,1030.9 L274.4,1023.9 L277.4,1023.9 L277.4,1015.8 L280.8,1015.8 L280.8,1007.0 L284.6,1007.0 L284.6,997.7 L288.6,997.7 L288.6,989.6 L292.0,989.6 L292.0,981.3 L295.5,981.3 L295.5,974.8 L298.3,974.8 L298.3,966.8 L301.7,966.8 L301.7,959.0 L305.0,959.0 L305.0,949.5 L309.0,949.5 L309.0,941.1 L312.5,941.1 L312.5,931.9 L316.3,931.9 L316.3,923.9 L319.6,923.9 L319.6,916.8 L322.6,916.8 L322.6,907.3 L326.6,907.3 L326.6,897.9 L330.5,897.9 L330.5,890.1 L333.7,890.1 L333.7,883.3 L336.6,883.3 L336.6,875.0 L340.1,875.0 L340.1,866.8 L343.5,866.8 L343.5,857.6 L347.3,857.6 L347.3,849.0 L350.8,849.0 L350.8,840.7 L354.1,840.7 L354.1,832.2 L357.6,832.2 L357.6,824.4 L360.8,824.4 L360.8,817.7 L363.5,817.7 L363.5,811.0 L366.2,811.0 L366.2,801.2 L370.2,801.2 L370.2,791.7 L374.0,791.7 L374.0,784.2 L377.1,784.2 L377.1,774.6 L381.0,774.6 L380.9,766.3 L384.2,766.3 L384.2,759.4 L386.7,759.4 L386.7,749.9 L390.2,749.9 L390.2,741.4 L393.4,741.4 L393.4,731.6 L397.0,731.6 L397.0,722.7 L400.2,722.7 L400.2,715.9 L402.8,715.9 L402.8,707.2 L406.0,707.2 L405.9,698.0 L409.2,698.0 L409.2,688.3 L412.6,688.3 L415.0,681.0 L418.0,684.0 L417.0,691.0" fill="none" stroke-width="5.5" stroke-linejoin="round" stroke-linecap="round"/>
<path d="M1126.0,287.0 L1126.5,288.0 L1127.2,400.0 L1128.3,700.0 L1129.5,1046.4 L1351.0,1046.4" fill="none" stroke-width="4" stroke-linejoin="round" stroke-linecap="round"/>
</g>
<text transform="translate(808.00,1236.00) scale(1.0,1)" font-family="Liberation Serif" font-size="74" text-anchor="middle" fill="#000"><tspan font-style="italic">t</tspan> (s)</text>
<text transform="translate(88,603.5) rotate(-90)" font-family="Liberation Serif" font-size="74" text-anchor="middle" fill="#000"><tspan font-style="italic">F</tspan> (N)</text>
<rect x="1072.5" y="36.6" width="399" height="176.7" fill="#fff" stroke="#000" stroke-width="1.2"/>
<line x1="1078" y1="68.9" x2="1179" y2="68.9" stroke="#515151" stroke-width="4" stroke-linecap="round"/>
<polygon points="1193.3,83.8 1219,83.8 1206.2,60.0" fill="none" stroke="#000" stroke-width="2.2" stroke-linejoin="miter"/>
<text transform="translate(1223.30,85.00) scale(0.98,1)" font-family="Liberation Serif" font-size="46.5" text-anchor="start" fill="#000">x = 0.0100 m</text>
<line x1="1078" y1="125.4" x2="1179" y2="125.4" stroke="#F14040" stroke-width="4" stroke-linecap="round"/>
<polygon points="1193.3,140.3 1219,140.3 1206.2,116.5" fill="none" stroke="#000" stroke-width="2.2" stroke-linejoin="miter"/>
<text transform="translate(1223.30,141.50) scale(0.98,1)" font-family="Liberation Serif" font-size="46.5" text-anchor="start" fill="#000">x = 0.0050 m</text>
<line x1="1078" y1="181.8" x2="1179" y2="181.8" stroke="#1A6FDF" stroke-width="4" stroke-linecap="round"/>
<polygon points="1193.3,196.70000000000002 1219,196.70000000000002 1206.2,172.9" fill="none" stroke="#000" stroke-width="2.2" stroke-linejoin="miter"/>
<text transform="translate(1223.30,197.90) scale(0.98,1)" font-family="Liberation Serif" font-size="46.5" text-anchor="start" fill="#000">x = 0.0025 m</text>
</svg>
</body></html>
